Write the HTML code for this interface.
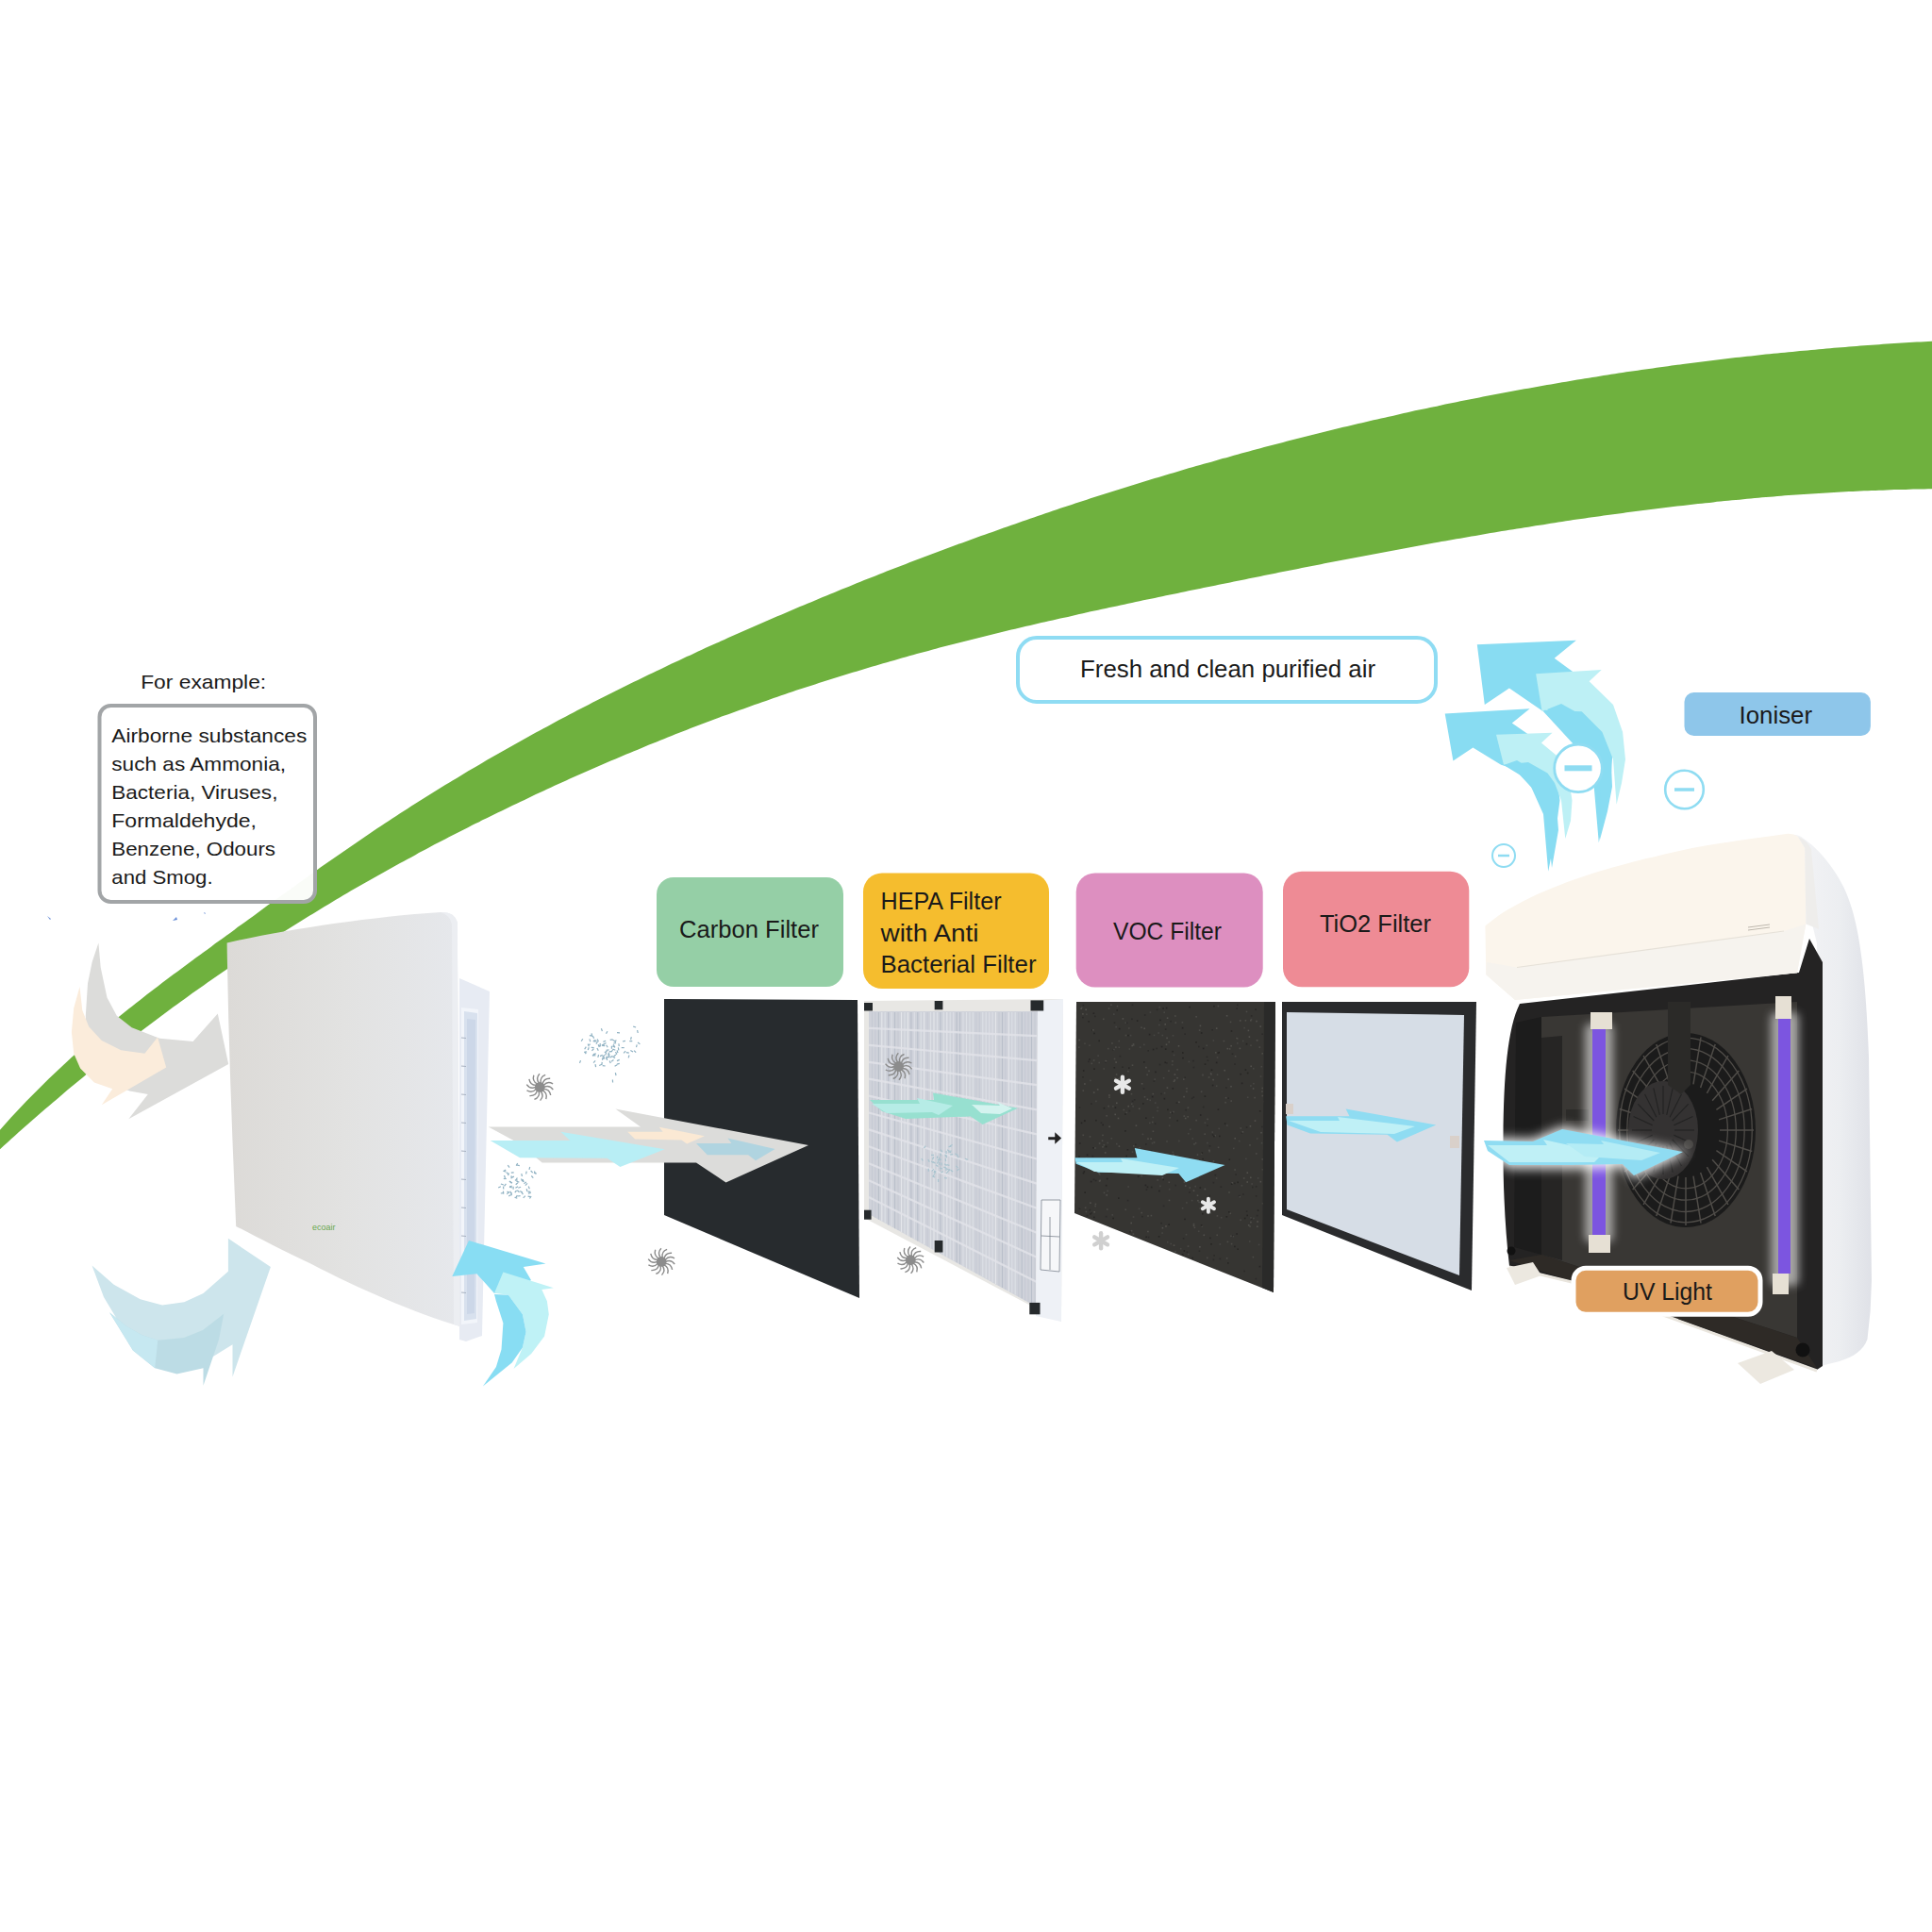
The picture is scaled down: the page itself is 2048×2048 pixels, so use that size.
<!DOCTYPE html>
<html><head><meta charset="utf-8"><style>
html,body{margin:0;padding:0;background:#fff;width:2048px;height:2048px;overflow:hidden}
svg{display:block}
text{font-family:"Liberation Sans",sans-serif}
</style></head><body>
<svg width="2048" height="2048" viewBox="0 0 2048 2048">
<defs><filter id="glow" x="-50%" y="-20%" width="200%" height="140%"><feGaussianBlur stdDeviation="5"/></filter><filter id="glow2" x="-20%" y="-50%" width="140%" height="200%"><feGaussianBlur stdDeviation="6"/></filter></defs>
<rect width="2048" height="2048" fill="#ffffff"/>
<path d="M-8.0,1206.8 C-6.7,1205.3 -2.7,1200.7 0.0,1197.7 C2.7,1194.7 5.3,1191.7 8.0,1188.8 C10.7,1185.8 13.3,1182.9 16.0,1180.1 C18.7,1177.2 21.3,1174.4 24.0,1171.6 C26.7,1168.8 29.3,1166.0 32.0,1163.3 C34.7,1160.6 37.3,1157.9 40.0,1155.2 C42.7,1152.5 45.3,1149.9 48.0,1147.3 C50.7,1144.6 53.3,1142.1 56.0,1139.5 C58.7,1136.9 61.3,1134.4 64.0,1131.9 C66.7,1129.4 69.3,1126.9 72.0,1124.5 C74.7,1122.0 77.3,1119.6 80.0,1117.2 C82.7,1114.8 85.3,1112.4 88.0,1110.1 C90.7,1107.7 93.3,1105.4 96.0,1103.0 C98.7,1100.7 101.3,1098.4 104.0,1096.2 C106.7,1093.9 109.3,1091.6 112.0,1089.4 C114.7,1087.2 117.3,1085.0 120.0,1082.8 C122.7,1080.6 125.3,1078.4 128.0,1076.2 C130.7,1074.1 133.3,1071.9 136.0,1069.8 C138.7,1067.7 141.3,1065.6 144.0,1063.5 C146.7,1061.4 149.3,1059.3 152.0,1057.2 C154.7,1055.1 157.3,1053.1 160.0,1051.0 C162.7,1049.0 165.3,1046.9 168.0,1044.9 C170.7,1042.9 173.3,1040.8 176.0,1038.8 C178.7,1036.8 181.3,1034.8 184.0,1032.8 C186.7,1030.8 189.3,1028.9 192.0,1026.9 C194.7,1024.9 197.3,1022.9 200.0,1021.0 C202.7,1019.0 205.3,1017.0 208.0,1015.1 C210.7,1013.1 213.3,1011.2 216.0,1009.2 C218.7,1007.3 221.3,1005.3 224.0,1003.4 C226.7,1001.4 229.3,999.5 232.0,997.6 C234.7,995.6 237.3,993.7 240.0,991.7 C242.7,989.8 245.3,987.8 248.0,985.9 C250.7,983.9 253.3,982.0 256.0,980.1 C258.7,978.1 261.3,976.2 264.0,974.2 C266.7,972.3 269.3,970.3 272.0,968.4 C274.7,966.5 277.3,964.5 280.0,962.6 C282.7,960.6 285.3,958.7 288.0,956.8 C290.7,954.8 293.3,952.9 296.0,951.0 C298.7,949.0 301.3,947.1 304.0,945.2 C306.7,943.3 309.3,941.4 312.0,939.4 C314.7,937.5 317.3,935.6 320.0,933.7 C322.7,931.8 325.3,929.9 328.0,928.0 C330.7,926.1 333.3,924.2 336.0,922.3 C338.7,920.4 341.3,918.5 344.0,916.6 C346.7,914.8 349.3,912.9 352.0,911.0 C354.7,909.1 357.3,907.3 360.0,905.4 C362.7,903.6 365.3,901.7 368.0,899.9 C370.7,898.0 373.3,896.2 376.0,894.4 C378.7,892.5 381.3,890.7 384.0,888.9 C386.7,887.1 389.3,885.3 392.0,883.5 C394.7,881.7 397.3,879.9 400.0,878.1 C402.7,876.3 405.3,874.6 408.0,872.8 C410.7,871.0 413.3,869.3 416.0,867.5 C418.7,865.8 421.3,864.1 424.0,862.3 C426.7,860.6 429.3,858.9 432.0,857.2 C434.7,855.5 437.3,853.7 440.0,852.1 C442.7,850.4 445.3,848.7 448.0,847.0 C450.7,845.3 453.3,843.6 456.0,842.0 C458.7,840.3 461.3,838.7 464.0,837.0 C466.7,835.4 469.3,833.7 472.0,832.1 C474.7,830.5 477.3,828.8 480.0,827.2 C482.7,825.6 485.3,824.0 488.0,822.4 C490.7,820.8 493.3,819.2 496.0,817.6 C498.7,816.0 501.3,814.5 504.0,812.9 C506.7,811.3 509.3,809.8 512.0,808.2 C514.7,806.7 517.3,805.1 520.0,803.6 C522.7,802.0 525.3,800.5 528.0,799.0 C530.7,797.4 533.3,795.9 536.0,794.4 C538.7,792.9 541.3,791.4 544.0,789.9 C546.7,788.4 549.3,786.9 552.0,785.4 C554.7,783.9 557.3,782.4 560.0,781.0 C562.7,779.5 565.3,778.0 568.0,776.6 C570.7,775.1 573.3,773.7 576.0,772.2 C578.7,770.8 581.3,769.3 584.0,767.9 C586.7,766.5 589.3,765.1 592.0,763.6 C594.7,762.2 597.3,760.8 600.0,759.4 C602.7,758.0 605.3,756.6 608.0,755.2 C610.7,753.8 613.3,752.4 616.0,751.0 C618.7,749.6 621.3,748.3 624.0,746.9 C626.7,745.5 629.3,744.2 632.0,742.8 C634.7,741.4 637.3,740.1 640.0,738.7 C642.7,737.4 645.3,736.0 648.0,734.7 C650.7,733.4 653.3,732.0 656.0,730.7 C658.7,729.4 661.3,728.1 664.0,726.7 C666.7,725.4 669.3,724.1 672.0,722.8 C674.7,721.5 677.3,720.2 680.0,718.9 C682.7,717.6 685.3,716.3 688.0,715.0 C690.7,713.8 693.3,712.5 696.0,711.2 C698.7,709.9 701.3,708.7 704.0,707.4 C706.7,706.1 709.3,704.9 712.0,703.6 C714.7,702.4 717.3,701.1 720.0,699.9 C722.7,698.6 725.3,697.4 728.0,696.1 C730.7,694.9 733.3,693.7 736.0,692.4 C738.7,691.2 741.3,690.0 744.0,688.8 C746.7,687.5 749.3,686.3 752.0,685.1 C754.7,683.9 757.3,682.7 760.0,681.5 C762.7,680.3 765.3,679.1 768.0,677.9 C770.7,676.7 773.3,675.5 776.0,674.3 C778.7,673.1 781.3,671.9 784.0,670.8 C786.7,669.6 789.3,668.4 792.0,667.2 C794.7,666.1 797.3,664.9 800.0,663.7 C802.7,662.6 805.3,661.4 808.0,660.2 C810.7,659.1 813.3,657.9 816.0,656.8 C818.7,655.6 821.3,654.5 824.0,653.3 C826.7,652.2 829.3,651.1 832.0,649.9 C834.7,648.8 837.3,647.6 840.0,646.5 C842.7,645.4 845.3,644.3 848.0,643.1 C850.7,642.0 853.3,640.9 856.0,639.8 C858.7,638.6 861.3,637.5 864.0,636.4 C866.7,635.3 869.3,634.2 872.0,633.1 C874.7,632.0 877.3,630.9 880.0,629.8 C882.7,628.7 885.3,627.6 888.0,626.5 C890.7,625.4 893.3,624.3 896.0,623.3 C898.7,622.2 901.3,621.1 904.0,620.0 C906.7,618.9 909.3,617.9 912.0,616.8 C914.7,615.7 917.3,614.7 920.0,613.6 C922.7,612.5 925.3,611.5 928.0,610.4 C930.7,609.4 933.3,608.3 936.0,607.3 C938.7,606.2 941.3,605.2 944.0,604.1 C946.7,603.1 949.3,602.1 952.0,601.0 C954.7,600.0 957.3,599.0 960.0,597.9 C962.7,596.9 965.3,595.9 968.0,594.8 C970.7,593.8 973.3,592.8 976.0,591.8 C978.7,590.8 981.3,589.8 984.0,588.8 C986.7,587.8 989.3,586.7 992.0,585.7 C994.7,584.7 997.3,583.7 1000.0,582.7 C1002.7,581.8 1005.3,580.8 1008.0,579.8 C1010.7,578.8 1013.3,577.8 1016.0,576.8 C1018.7,575.8 1021.3,574.9 1024.0,573.9 C1026.7,572.9 1029.3,571.9 1032.0,571.0 C1034.7,570.0 1037.3,569.0 1040.0,568.1 C1042.7,567.1 1045.3,566.2 1048.0,565.2 C1050.7,564.3 1053.3,563.3 1056.0,562.4 C1058.7,561.4 1061.3,560.5 1064.0,559.5 C1066.7,558.6 1069.3,557.6 1072.0,556.7 C1074.7,555.8 1077.3,554.9 1080.0,553.9 C1082.7,553.0 1085.3,552.1 1088.0,551.2 C1090.7,550.2 1093.3,549.3 1096.0,548.4 C1098.7,547.5 1101.3,546.6 1104.0,545.7 C1106.7,544.8 1109.3,543.9 1112.0,543.0 C1114.7,542.1 1117.3,541.2 1120.0,540.3 C1122.7,539.4 1125.3,538.5 1128.0,537.6 C1130.7,536.7 1133.3,535.8 1136.0,534.9 C1138.7,534.1 1141.3,533.2 1144.0,532.3 C1146.7,531.4 1149.3,530.6 1152.0,529.7 C1154.7,528.8 1157.3,528.0 1160.0,527.1 C1162.7,526.3 1165.3,525.4 1168.0,524.5 C1170.7,523.7 1173.3,522.8 1176.0,522.0 C1178.7,521.2 1181.3,520.3 1184.0,519.5 C1186.7,518.6 1189.3,517.8 1192.0,517.0 C1194.7,516.1 1197.3,515.3 1200.0,514.5 C1202.7,513.6 1205.3,512.8 1208.0,512.0 C1210.7,511.2 1213.3,510.4 1216.0,509.5 C1218.7,508.7 1221.3,507.9 1224.0,507.1 C1226.7,506.3 1229.3,505.5 1232.0,504.7 C1234.7,503.9 1237.3,503.1 1240.0,502.3 C1242.7,501.5 1245.3,500.7 1248.0,499.9 C1250.7,499.2 1253.3,498.4 1256.0,497.6 C1258.7,496.8 1261.3,496.0 1264.0,495.3 C1266.7,494.5 1269.3,493.7 1272.0,493.0 C1274.7,492.2 1277.3,491.4 1280.0,490.7 C1282.7,489.9 1285.3,489.2 1288.0,488.4 C1290.7,487.6 1293.3,486.9 1296.0,486.1 C1298.7,485.4 1301.3,484.7 1304.0,483.9 C1306.7,483.2 1309.3,482.4 1312.0,481.7 C1314.7,481.0 1317.3,480.2 1320.0,479.5 C1322.7,478.8 1325.3,478.1 1328.0,477.3 C1330.7,476.6 1333.3,475.9 1336.0,475.2 C1338.7,474.5 1341.3,473.8 1344.0,473.1 C1346.7,472.4 1349.3,471.7 1352.0,471.0 C1354.7,470.3 1357.3,469.6 1360.0,468.9 C1362.7,468.2 1365.3,467.5 1368.0,466.8 C1370.7,466.1 1373.3,465.4 1376.0,464.7 C1378.7,464.1 1381.3,463.4 1384.0,462.7 C1386.7,462.0 1389.3,461.4 1392.0,460.7 C1394.7,460.0 1397.3,459.4 1400.0,458.7 C1402.7,458.0 1405.3,457.4 1408.0,456.7 C1410.7,456.1 1413.3,455.4 1416.0,454.8 C1418.7,454.1 1421.3,453.5 1424.0,452.8 C1426.7,452.2 1429.3,451.6 1432.0,450.9 C1434.7,450.3 1437.3,449.7 1440.0,449.0 C1442.7,448.4 1445.3,447.8 1448.0,447.2 C1450.7,446.5 1453.3,445.9 1456.0,445.3 C1458.7,444.7 1461.3,444.1 1464.0,443.5 C1466.7,442.9 1469.3,442.3 1472.0,441.7 C1474.7,441.1 1477.3,440.5 1480.0,439.9 C1482.7,439.3 1485.3,438.7 1488.0,438.1 C1490.7,437.5 1493.3,436.9 1496.0,436.3 C1498.7,435.7 1501.3,435.2 1504.0,434.6 C1506.7,434.0 1509.3,433.4 1512.0,432.9 C1514.7,432.3 1517.3,431.7 1520.0,431.2 C1522.7,430.6 1525.3,430.0 1528.0,429.5 C1530.7,428.9 1533.3,428.4 1536.0,427.8 C1538.7,427.3 1541.3,426.7 1544.0,426.2 C1546.7,425.6 1549.3,425.1 1552.0,424.6 C1554.7,424.0 1557.3,423.5 1560.0,423.0 C1562.7,422.4 1565.3,421.9 1568.0,421.4 C1570.7,420.9 1573.3,420.3 1576.0,419.8 C1578.7,419.3 1581.3,418.8 1584.0,418.3 C1586.7,417.8 1589.3,417.3 1592.0,416.8 C1594.7,416.3 1597.3,415.8 1600.0,415.3 C1602.7,414.8 1605.3,414.3 1608.0,413.8 C1610.7,413.3 1613.3,412.8 1616.0,412.3 C1618.7,411.8 1621.3,411.3 1624.0,410.9 C1626.7,410.4 1629.3,409.9 1632.0,409.4 C1634.7,409.0 1637.3,408.5 1640.0,408.0 C1642.7,407.6 1645.3,407.1 1648.0,406.7 C1650.7,406.2 1653.3,405.7 1656.0,405.3 C1658.7,404.8 1661.3,404.4 1664.0,403.9 C1666.7,403.5 1669.3,403.0 1672.0,402.6 C1674.7,402.2 1677.3,401.7 1680.0,401.3 C1682.7,400.9 1685.3,400.4 1688.0,400.0 C1690.7,399.6 1693.3,399.2 1696.0,398.7 C1698.7,398.3 1701.3,397.9 1704.0,397.5 C1706.7,397.1 1709.3,396.7 1712.0,396.3 C1714.7,395.8 1717.3,395.4 1720.0,395.0 C1722.7,394.6 1725.3,394.2 1728.0,393.8 C1730.7,393.5 1733.3,393.1 1736.0,392.7 C1738.7,392.3 1741.3,391.9 1744.0,391.5 C1746.7,391.1 1749.3,390.8 1752.0,390.4 C1754.7,390.0 1757.3,389.6 1760.0,389.3 C1762.7,388.9 1765.3,388.5 1768.0,388.2 C1770.7,387.8 1773.3,387.4 1776.0,387.1 C1778.7,386.7 1781.3,386.4 1784.0,386.0 C1786.7,385.7 1789.3,385.3 1792.0,385.0 C1794.7,384.6 1797.3,384.3 1800.0,384.0 C1802.7,383.6 1805.3,383.3 1808.0,383.0 C1810.7,382.6 1813.3,382.3 1816.0,382.0 C1818.7,381.7 1821.3,381.3 1824.0,381.0 C1826.7,380.7 1829.3,380.4 1832.0,380.1 C1834.7,379.8 1837.3,379.5 1840.0,379.1 C1842.7,378.8 1845.3,378.5 1848.0,378.2 C1850.7,377.9 1853.3,377.6 1856.0,377.4 C1858.7,377.1 1861.3,376.8 1864.0,376.5 C1866.7,376.2 1869.3,375.9 1872.0,375.6 C1874.7,375.4 1877.3,375.1 1880.0,374.8 C1882.7,374.5 1885.3,374.3 1888.0,374.0 C1890.7,373.7 1893.3,373.5 1896.0,373.2 C1898.7,372.9 1901.3,372.7 1904.0,372.4 C1906.7,372.2 1909.3,371.9 1912.0,371.7 C1914.7,371.4 1917.3,371.2 1920.0,370.9 C1922.7,370.7 1925.3,370.5 1928.0,370.2 C1930.7,370.0 1933.3,369.8 1936.0,369.5 C1938.7,369.3 1941.3,369.1 1944.0,368.8 C1946.7,368.6 1949.3,368.4 1952.0,368.2 C1954.7,368.0 1957.3,367.8 1960.0,367.5 C1962.7,367.3 1965.3,367.1 1968.0,366.9 C1970.7,366.7 1973.3,366.5 1976.0,366.3 C1978.7,366.1 1981.3,365.9 1984.0,365.7 C1986.7,365.5 1989.3,365.4 1992.0,365.2 C1994.7,365.0 1997.3,364.8 2000.0,364.6 C2002.7,364.4 2005.3,364.3 2008.0,364.1 C2010.7,363.9 2013.3,363.8 2016.0,363.6 C2018.7,363.4 2021.3,363.3 2024.0,363.1 C2026.7,362.9 2029.3,362.8 2032.0,362.6 C2034.7,362.5 2037.3,362.3 2040.0,362.2 C2042.7,362.0 2045.3,361.9 2048.0,361.7 C2050.7,361.6 2054.7,361.4 2056.0,361.3 L2056.0,518.2 C2054.7,518.2 2050.7,518.3 2048.0,518.3 C2045.3,518.3 2042.7,518.4 2040.0,518.4 C2037.3,518.5 2034.7,518.5 2032.0,518.6 C2029.3,518.6 2026.7,518.7 2024.0,518.7 C2021.3,518.8 2018.7,518.9 2016.0,518.9 C2013.3,519.0 2010.7,519.1 2008.0,519.1 C2005.3,519.2 2002.7,519.3 2000.0,519.4 C1997.3,519.5 1994.7,519.6 1992.0,519.7 C1989.3,519.8 1986.7,519.9 1984.0,520.0 C1981.3,520.1 1978.7,520.2 1976.0,520.3 C1973.3,520.5 1970.7,520.6 1968.0,520.7 C1965.3,520.8 1962.7,521.0 1960.0,521.1 C1957.3,521.2 1954.7,521.4 1952.0,521.5 C1949.3,521.7 1946.7,521.8 1944.0,522.0 C1941.3,522.1 1938.7,522.3 1936.0,522.4 C1933.3,522.6 1930.7,522.7 1928.0,522.9 C1925.3,523.1 1922.7,523.3 1920.0,523.4 C1917.3,523.6 1914.7,523.8 1912.0,524.0 C1909.3,524.2 1906.7,524.4 1904.0,524.6 C1901.3,524.7 1898.7,524.9 1896.0,525.1 C1893.3,525.3 1890.7,525.6 1888.0,525.8 C1885.3,526.0 1882.7,526.2 1880.0,526.4 C1877.3,526.6 1874.7,526.8 1872.0,527.1 C1869.3,527.3 1866.7,527.5 1864.0,527.8 C1861.3,528.0 1858.7,528.2 1856.0,528.5 C1853.3,528.7 1850.7,529.0 1848.0,529.2 C1845.3,529.5 1842.7,529.7 1840.0,530.0 C1837.3,530.2 1834.7,530.5 1832.0,530.8 C1829.3,531.0 1826.7,531.3 1824.0,531.6 C1821.3,531.8 1818.7,532.1 1816.0,532.4 C1813.3,532.7 1810.7,532.9 1808.0,533.2 C1805.3,533.5 1802.7,533.8 1800.0,534.1 C1797.3,534.4 1794.7,534.7 1792.0,535.0 C1789.3,535.3 1786.7,535.6 1784.0,535.9 C1781.3,536.2 1778.7,536.5 1776.0,536.8 C1773.3,537.1 1770.7,537.4 1768.0,537.8 C1765.3,538.1 1762.7,538.4 1760.0,538.7 C1757.3,539.1 1754.7,539.4 1752.0,539.7 C1749.3,540.0 1746.7,540.4 1744.0,540.7 C1741.3,541.1 1738.7,541.4 1736.0,541.7 C1733.3,542.1 1730.7,542.4 1728.0,542.8 C1725.3,543.1 1722.7,543.5 1720.0,543.9 C1717.3,544.2 1714.7,544.6 1712.0,544.9 C1709.3,545.3 1706.7,545.7 1704.0,546.0 C1701.3,546.4 1698.7,546.8 1696.0,547.2 C1693.3,547.5 1690.7,547.9 1688.0,548.3 C1685.3,548.7 1682.7,549.0 1680.0,549.4 C1677.3,549.8 1674.7,550.2 1672.0,550.6 C1669.3,551.0 1666.7,551.4 1664.0,551.8 C1661.3,552.2 1658.7,552.6 1656.0,553.0 C1653.3,553.4 1650.7,553.8 1648.0,554.2 C1645.3,554.6 1642.7,555.0 1640.0,555.4 C1637.3,555.8 1634.7,556.3 1632.0,556.7 C1629.3,557.1 1626.7,557.5 1624.0,557.9 C1621.3,558.4 1618.7,558.8 1616.0,559.2 C1613.3,559.6 1610.7,560.1 1608.0,560.5 C1605.3,560.9 1602.7,561.4 1600.0,561.8 C1597.3,562.2 1594.7,562.7 1592.0,563.1 C1589.3,563.6 1586.7,564.0 1584.0,564.5 C1581.3,564.9 1578.7,565.3 1576.0,565.8 C1573.3,566.2 1570.7,566.7 1568.0,567.2 C1565.3,567.6 1562.7,568.1 1560.0,568.5 C1557.3,569.0 1554.7,569.4 1552.0,569.9 C1549.3,570.4 1546.7,570.8 1544.0,571.3 C1541.3,571.8 1538.7,572.2 1536.0,572.7 C1533.3,573.2 1530.7,573.7 1528.0,574.1 C1525.3,574.6 1522.7,575.1 1520.0,575.6 C1517.3,576.0 1514.7,576.5 1512.0,577.0 C1509.3,577.5 1506.7,578.0 1504.0,578.4 C1501.3,578.9 1498.7,579.4 1496.0,579.9 C1493.3,580.4 1490.7,580.9 1488.0,581.4 C1485.3,581.9 1482.7,582.4 1480.0,582.9 C1477.3,583.4 1474.7,583.9 1472.0,584.4 C1469.3,584.9 1466.7,585.4 1464.0,585.9 C1461.3,586.4 1458.7,586.9 1456.0,587.4 C1453.3,587.9 1450.7,588.4 1448.0,588.9 C1445.3,589.4 1442.7,589.9 1440.0,590.4 C1437.3,590.9 1434.7,591.4 1432.0,592.0 C1429.3,592.5 1426.7,593.0 1424.0,593.5 C1421.3,594.0 1418.7,594.5 1416.0,595.1 C1413.3,595.6 1410.7,596.1 1408.0,596.6 C1405.3,597.1 1402.7,597.7 1400.0,598.2 C1397.3,598.7 1394.7,599.2 1392.0,599.8 C1389.3,600.3 1386.7,600.8 1384.0,601.3 C1381.3,601.9 1378.7,602.4 1376.0,602.9 C1373.3,603.4 1370.7,604.0 1368.0,604.5 C1365.3,605.0 1362.7,605.6 1360.0,606.1 C1357.3,606.6 1354.7,607.2 1352.0,607.7 C1349.3,608.2 1346.7,608.8 1344.0,609.3 C1341.3,609.9 1338.7,610.4 1336.0,610.9 C1333.3,611.5 1330.7,612.0 1328.0,612.6 C1325.3,613.1 1322.7,613.6 1320.0,614.2 C1317.3,614.7 1314.7,615.3 1312.0,615.8 C1309.3,616.3 1306.7,616.9 1304.0,617.4 C1301.3,618.0 1298.7,618.5 1296.0,619.1 C1293.3,619.6 1290.7,620.2 1288.0,620.7 C1285.3,621.3 1282.7,621.8 1280.0,622.3 C1277.3,622.9 1274.7,623.4 1272.0,624.0 C1269.3,624.5 1266.7,625.1 1264.0,625.6 C1261.3,626.2 1258.7,626.7 1256.0,627.3 C1253.3,627.8 1250.7,628.4 1248.0,628.9 C1245.3,629.5 1242.7,630.0 1240.0,630.6 C1237.3,631.1 1234.7,631.7 1232.0,632.3 C1229.3,632.8 1226.7,633.4 1224.0,633.9 C1221.3,634.5 1218.7,635.0 1216.0,635.6 C1213.3,636.2 1210.7,636.7 1208.0,637.3 C1205.3,637.8 1202.7,638.4 1200.0,639.0 C1197.3,639.5 1194.7,640.1 1192.0,640.7 C1189.3,641.2 1186.7,641.8 1184.0,642.4 C1181.3,643.0 1178.7,643.5 1176.0,644.1 C1173.3,644.7 1170.7,645.3 1168.0,645.8 C1165.3,646.4 1162.7,647.0 1160.0,647.6 C1157.3,648.2 1154.7,648.7 1152.0,649.3 C1149.3,649.9 1146.7,650.5 1144.0,651.1 C1141.3,651.7 1138.7,652.3 1136.0,652.9 C1133.3,653.5 1130.7,654.1 1128.0,654.7 C1125.3,655.2 1122.7,655.9 1120.0,656.5 C1117.3,657.1 1114.7,657.7 1112.0,658.3 C1109.3,658.9 1106.7,659.5 1104.0,660.1 C1101.3,660.7 1098.7,661.3 1096.0,662.0 C1093.3,662.6 1090.7,663.2 1088.0,663.8 C1085.3,664.4 1082.7,665.1 1080.0,665.7 C1077.3,666.3 1074.7,667.0 1072.0,667.6 C1069.3,668.2 1066.7,668.9 1064.0,669.5 C1061.3,670.2 1058.7,670.8 1056.0,671.5 C1053.3,672.1 1050.7,672.8 1048.0,673.4 C1045.3,674.1 1042.7,674.7 1040.0,675.4 C1037.3,676.1 1034.7,676.7 1032.0,677.4 C1029.3,678.1 1026.7,678.8 1024.0,679.4 C1021.3,680.1 1018.7,680.8 1016.0,681.5 C1013.3,682.2 1010.7,682.9 1008.0,683.6 C1005.3,684.2 1002.7,684.9 1000.0,685.6 C997.3,686.3 994.7,687.1 992.0,687.8 C989.3,688.5 986.7,689.2 984.0,689.9 C981.3,690.6 978.7,691.3 976.0,692.1 C973.3,692.8 970.7,693.5 968.0,694.3 C965.3,695.0 962.7,695.7 960.0,696.5 C957.3,697.2 954.7,698.0 952.0,698.7 C949.3,699.5 946.7,700.3 944.0,701.0 C941.3,701.8 938.7,702.5 936.0,703.3 C933.3,704.1 930.7,704.9 928.0,705.7 C925.3,706.4 922.7,707.2 920.0,708.0 C917.3,708.8 914.7,709.6 912.0,710.4 C909.3,711.2 906.7,712.0 904.0,712.8 C901.3,713.6 898.7,714.5 896.0,715.3 C893.3,716.1 890.7,716.9 888.0,717.8 C885.3,718.6 882.7,719.4 880.0,720.3 C877.3,721.1 874.7,722.0 872.0,722.8 C869.3,723.7 866.7,724.5 864.0,725.4 C861.3,726.3 858.7,727.1 856.0,728.0 C853.3,728.9 850.7,729.7 848.0,730.6 C845.3,731.5 842.7,732.4 840.0,733.3 C837.3,734.2 834.7,735.1 832.0,736.0 C829.3,736.9 826.7,737.8 824.0,738.7 C821.3,739.6 818.7,740.5 816.0,741.4 C813.3,742.4 810.7,743.3 808.0,744.2 C805.3,745.2 802.7,746.1 800.0,747.0 C797.3,748.0 794.7,748.9 792.0,749.9 C789.3,750.8 786.7,751.8 784.0,752.7 C781.3,753.7 778.7,754.7 776.0,755.7 C773.3,756.6 770.7,757.6 768.0,758.6 C765.3,759.6 762.7,760.6 760.0,761.5 C757.3,762.5 754.7,763.5 752.0,764.5 C749.3,765.5 746.7,766.6 744.0,767.6 C741.3,768.6 738.7,769.6 736.0,770.6 C733.3,771.7 730.7,772.7 728.0,773.7 C725.3,774.8 722.7,775.8 720.0,776.8 C717.3,777.9 714.7,778.9 712.0,780.0 C709.3,781.0 706.7,782.1 704.0,783.2 C701.3,784.2 698.7,785.3 696.0,786.4 C693.3,787.5 690.7,788.5 688.0,789.6 C685.3,790.7 682.7,791.8 680.0,792.9 C677.3,794.0 674.7,795.1 672.0,796.2 C669.3,797.3 666.7,798.4 664.0,799.6 C661.3,800.7 658.7,801.8 656.0,802.9 C653.3,804.1 650.7,805.2 648.0,806.3 C645.3,807.5 642.7,808.6 640.0,809.8 C637.3,810.9 634.7,812.1 632.0,813.2 C629.3,814.4 626.7,815.6 624.0,816.7 C621.3,817.9 618.7,819.1 616.0,820.3 C613.3,821.4 610.7,822.6 608.0,823.8 C605.3,825.0 602.7,826.2 600.0,827.4 C597.3,828.6 594.7,829.8 592.0,831.1 C589.3,832.3 586.7,833.5 584.0,834.7 C581.3,835.9 578.7,837.2 576.0,838.4 C573.3,839.6 570.7,840.9 568.0,842.1 C565.3,843.4 562.7,844.6 560.0,845.9 C557.3,847.2 554.7,848.4 552.0,849.7 C549.3,851.0 546.7,852.2 544.0,853.5 C541.3,854.8 538.7,856.1 536.0,857.4 C533.3,858.7 530.7,860.0 528.0,861.3 C525.3,862.6 522.7,863.9 520.0,865.2 C517.3,866.5 514.7,867.8 512.0,869.1 C509.3,870.5 506.7,871.8 504.0,873.1 C501.3,874.5 498.7,875.8 496.0,877.2 C493.3,878.5 490.7,879.9 488.0,881.2 C485.3,882.6 482.7,884.0 480.0,885.3 C477.3,886.7 474.7,888.1 472.0,889.5 C469.3,890.8 466.7,892.2 464.0,893.6 C461.3,895.0 458.7,896.4 456.0,897.8 C453.3,899.3 450.7,900.7 448.0,902.1 C445.3,903.5 442.7,904.9 440.0,906.4 C437.3,907.8 434.7,909.3 432.0,910.7 C429.3,912.1 426.7,913.6 424.0,915.1 C421.3,916.5 418.7,918.0 416.0,919.5 C413.3,920.9 410.7,922.4 408.0,923.9 C405.3,925.4 402.7,926.9 400.0,928.4 C397.3,929.9 394.7,931.4 392.0,932.9 C389.3,934.5 386.7,936.0 384.0,937.5 C381.3,939.0 378.7,940.6 376.0,942.1 C373.3,943.7 370.7,945.2 368.0,946.8 C365.3,948.3 362.7,949.9 360.0,951.5 C357.3,953.1 354.7,954.6 352.0,956.2 C349.3,957.8 346.7,959.4 344.0,961.0 C341.3,962.6 338.7,964.2 336.0,965.9 C333.3,967.5 330.7,969.1 328.0,970.8 C325.3,972.4 322.7,974.0 320.0,975.7 C317.3,977.3 314.7,979.0 312.0,980.7 C309.3,982.3 306.7,984.0 304.0,985.7 C301.3,987.4 298.7,989.1 296.0,990.8 C293.3,992.5 290.7,994.2 288.0,995.9 C285.3,997.6 282.7,999.3 280.0,1001.1 C277.3,1002.8 274.7,1004.6 272.0,1006.3 C269.3,1008.1 266.7,1009.8 264.0,1011.6 C261.3,1013.4 258.7,1015.1 256.0,1016.9 C253.3,1018.7 250.7,1020.5 248.0,1022.3 C245.3,1024.1 242.7,1025.9 240.0,1027.7 C237.3,1029.6 234.7,1031.4 232.0,1033.2 C229.3,1035.1 226.7,1036.9 224.0,1038.8 C221.3,1040.6 218.7,1042.5 216.0,1044.4 C213.3,1046.3 210.7,1048.1 208.0,1050.0 C205.3,1051.9 202.7,1053.8 200.0,1055.7 C197.3,1057.7 194.7,1059.6 192.0,1061.5 C189.3,1063.4 186.7,1065.4 184.0,1067.3 C181.3,1069.3 178.7,1071.2 176.0,1073.2 C173.3,1075.2 170.7,1077.2 168.0,1079.2 C165.3,1081.1 162.7,1083.1 160.0,1085.2 C157.3,1087.2 154.7,1089.2 152.0,1091.2 C149.3,1093.2 146.7,1095.3 144.0,1097.3 C141.3,1099.4 138.7,1101.4 136.0,1103.5 C133.3,1105.6 130.7,1107.6 128.0,1109.7 C125.3,1111.8 122.7,1113.9 120.0,1116.0 C117.3,1118.1 114.7,1120.3 112.0,1122.4 C109.3,1124.5 106.7,1126.7 104.0,1128.8 C101.3,1131.0 98.7,1133.1 96.0,1135.3 C93.3,1137.5 90.7,1139.7 88.0,1141.9 C85.3,1144.1 82.7,1146.3 80.0,1148.5 C77.3,1150.7 74.7,1152.9 72.0,1155.1 C69.3,1157.4 66.7,1159.6 64.0,1161.9 C61.3,1164.2 58.7,1166.4 56.0,1168.7 C53.3,1171.0 50.7,1173.3 48.0,1175.6 C45.3,1177.9 42.7,1180.2 40.0,1182.5 C37.3,1184.9 34.7,1187.2 32.0,1189.5 C29.3,1191.9 26.7,1194.2 24.0,1196.6 C21.3,1199.0 18.7,1201.4 16.0,1203.8 C13.3,1206.2 10.7,1208.6 8.0,1211.0 C5.3,1213.4 2.7,1215.8 0.0,1218.3 C-2.7,1220.7 -6.7,1224.4 -8.0,1225.6 Z" fill="#6fb13e"/>
<rect x="105.5" y="748" width="228.5" height="208" rx="12" fill="#fff" fill-opacity="0.965" stroke="#a2a5a7" stroke-width="4"/>
<path d="M50,971 l4,3 l-1,1 z M183,976 l4,-4 l1,3 z M216,967 l2,1 l-1,1 z" fill="#6a8fd8"/>
<text x="149.2" y="729.6" font-size="21" fill="#1a1a1a" text-anchor="start" textLength="133" lengthAdjust="spacingAndGlyphs" >For example:</text>
<text x="118.3" y="787.0" font-size="21" fill="#1a1a1a" text-anchor="start" textLength="207" lengthAdjust="spacingAndGlyphs" >Airborne substances</text>
<text x="118.3" y="816.9" font-size="21" fill="#1a1a1a" text-anchor="start" textLength="184.8" lengthAdjust="spacingAndGlyphs" >such as Ammonia,</text>
<text x="118.3" y="846.8" font-size="21" fill="#1a1a1a" text-anchor="start" textLength="176.1" lengthAdjust="spacingAndGlyphs" >Bacteria, Viruses,</text>
<text x="118.3" y="876.7" font-size="21" fill="#1a1a1a" text-anchor="start" textLength="153.7" lengthAdjust="spacingAndGlyphs" >Formaldehyde,</text>
<text x="118.3" y="906.6" font-size="21" fill="#1a1a1a" text-anchor="start" textLength="173.7" lengthAdjust="spacingAndGlyphs" >Benzene, Odours</text>
<text x="118.3" y="936.5" font-size="21" fill="#1a1a1a" text-anchor="start" textLength="107.3" lengthAdjust="spacingAndGlyphs" >and Smog.</text>
<rect x="696" y="930" width="198" height="116" rx="18" fill="#95cfa6"/><text x="720" y="993.8" font-size="25" fill="#1a1a1a" text-anchor="start" textLength="148" lengthAdjust="spacingAndGlyphs" >Carbon Filter</text>
<rect x="915" y="925.5" width="197" height="122.5" rx="20" fill="#f5bd2e"/><text x="933.5" y="964.2" font-size="25" fill="#1a1a1a" text-anchor="start" textLength="128" lengthAdjust="spacingAndGlyphs" >HEPA Filter</text><text x="933.5" y="997.7" font-size="25" fill="#1a1a1a" text-anchor="start" textLength="104" lengthAdjust="spacingAndGlyphs" >with Anti</text><text x="933.5" y="1031.2" font-size="25" fill="#1a1a1a" text-anchor="start" textLength="165" lengthAdjust="spacingAndGlyphs" >Bacterial Filter</text>
<rect x="1140.7" y="925.4" width="198" height="121" rx="20" fill="#dd8fc0"/><text x="1180" y="996.3" font-size="25" fill="#1a1a1a" text-anchor="start" textLength="115" lengthAdjust="spacingAndGlyphs" >VOC Filter</text>
<rect x="1360" y="923.8" width="197.3" height="122.4" rx="20" fill="#ee8b95"/><text x="1399" y="988" font-size="25" fill="#1a1a1a" text-anchor="start" textLength="118" lengthAdjust="spacingAndGlyphs" >TiO2 Filter</text>
<rect x="1785.5" y="734" width="197.4" height="46" rx="10" fill="#8ec6ea"/><text x="1843.5" y="766.5" font-size="25" fill="#1a1a1a" text-anchor="start" textLength="77.5" lengthAdjust="spacingAndGlyphs" >Ioniser</text>
<rect x="1079" y="676" width="443" height="68" rx="20" fill="#fff" stroke="#8fdcf3" stroke-width="4"/>
<text x="1145" y="718" font-size="25" fill="#1a1a1a" text-anchor="start" textLength="313" lengthAdjust="spacingAndGlyphs" >Fresh and clean purified air</text>
<polygon points="704,1059 909,1060 911,1376 704,1288" fill="#272b2e"/>
<polygon points="916,1061 1127,1059 1125,1401 916,1291" fill="#e8e7e4"/>
<polygon points="921,1072 1100,1072 1098,1385 921,1287" fill="#cfd2da"/>
<line x1="924.5" y1="1073" x2="924.5" y2="1288.9" stroke="#c6cad4" stroke-width="1.1"/><line x1="927.9" y1="1073" x2="927.9" y2="1290.8" stroke="#c6cad4" stroke-width="1.1"/><line x1="931.4" y1="1073" x2="931.4" y2="1292.7" stroke="#b9bfca" stroke-width="1.1"/><line x1="934.8" y1="1073" x2="934.8" y2="1294.6" stroke="#e5e7eb" stroke-width="1.1"/><line x1="938.2" y1="1073" x2="938.2" y2="1296.5" stroke="#dde0e6" stroke-width="1.1"/><line x1="941.7" y1="1073" x2="941.7" y2="1298.4" stroke="#b9bfca" stroke-width="1.1"/><line x1="945.1" y1="1073" x2="945.1" y2="1300.3" stroke="#dde0e6" stroke-width="1.1"/><line x1="948.6" y1="1073" x2="948.6" y2="1302.2" stroke="#b9bfca" stroke-width="1.1"/><line x1="952.0" y1="1073" x2="952.0" y2="1304.1" stroke="#c6cad4" stroke-width="1.1"/><line x1="955.5" y1="1073" x2="955.5" y2="1306.0" stroke="#e5e7eb" stroke-width="1.1"/><line x1="959.0" y1="1073" x2="959.0" y2="1307.9" stroke="#dde0e6" stroke-width="1.1"/><line x1="962.4" y1="1073" x2="962.4" y2="1309.8" stroke="#e5e7eb" stroke-width="1.1"/><line x1="965.9" y1="1073" x2="965.9" y2="1311.7" stroke="#b9bfca" stroke-width="1.1"/><line x1="969.3" y1="1073" x2="969.3" y2="1313.6" stroke="#dde0e6" stroke-width="1.1"/><line x1="972.8" y1="1073" x2="972.8" y2="1315.5" stroke="#b9bfca" stroke-width="1.1"/><line x1="976.2" y1="1073" x2="976.2" y2="1317.4" stroke="#dde0e6" stroke-width="1.1"/><line x1="979.6" y1="1073" x2="979.6" y2="1319.3" stroke="#e5e7eb" stroke-width="1.1"/><line x1="983.1" y1="1073" x2="983.1" y2="1321.2" stroke="#c6cad4" stroke-width="1.1"/><line x1="986.5" y1="1073" x2="986.5" y2="1323.1" stroke="#dde0e6" stroke-width="1.1"/><line x1="990.0" y1="1073" x2="990.0" y2="1325.0" stroke="#e5e7eb" stroke-width="1.1"/><line x1="993.5" y1="1073" x2="993.5" y2="1326.9" stroke="#dde0e6" stroke-width="1.1"/><line x1="996.9" y1="1073" x2="996.9" y2="1328.8" stroke="#b9bfca" stroke-width="1.1"/><line x1="1000.4" y1="1073" x2="1000.4" y2="1330.7" stroke="#dde0e6" stroke-width="1.1"/><line x1="1003.8" y1="1073" x2="1003.8" y2="1332.6" stroke="#e5e7eb" stroke-width="1.1"/><line x1="1007.2" y1="1073" x2="1007.2" y2="1334.5" stroke="#dde0e6" stroke-width="1.1"/><line x1="1010.7" y1="1073" x2="1010.7" y2="1336.4" stroke="#dde0e6" stroke-width="1.1"/><line x1="1014.1" y1="1073" x2="1014.1" y2="1338.3" stroke="#b9bfca" stroke-width="1.1"/><line x1="1017.6" y1="1073" x2="1017.6" y2="1340.2" stroke="#b9bfca" stroke-width="1.1"/><line x1="1021.0" y1="1073" x2="1021.0" y2="1342.1" stroke="#dde0e6" stroke-width="1.1"/><line x1="1024.5" y1="1073" x2="1024.5" y2="1344.0" stroke="#dde0e6" stroke-width="1.1"/><line x1="1028.0" y1="1073" x2="1028.0" y2="1345.9" stroke="#dde0e6" stroke-width="1.1"/><line x1="1031.4" y1="1073" x2="1031.4" y2="1347.8" stroke="#dde0e6" stroke-width="1.1"/><line x1="1034.8" y1="1073" x2="1034.8" y2="1349.7" stroke="#c6cad4" stroke-width="1.1"/><line x1="1038.3" y1="1073" x2="1038.3" y2="1351.6" stroke="#c6cad4" stroke-width="1.1"/><line x1="1041.8" y1="1073" x2="1041.8" y2="1353.5" stroke="#dde0e6" stroke-width="1.1"/><line x1="1045.2" y1="1073" x2="1045.2" y2="1355.4" stroke="#dde0e6" stroke-width="1.1"/><line x1="1048.7" y1="1073" x2="1048.7" y2="1357.3" stroke="#dde0e6" stroke-width="1.1"/><line x1="1052.1" y1="1073" x2="1052.1" y2="1359.2" stroke="#dde0e6" stroke-width="1.1"/><line x1="1055.5" y1="1073" x2="1055.5" y2="1361.1" stroke="#e5e7eb" stroke-width="1.1"/><line x1="1059.0" y1="1073" x2="1059.0" y2="1363.0" stroke="#c6cad4" stroke-width="1.1"/><line x1="1062.5" y1="1073" x2="1062.5" y2="1364.9" stroke="#b9bfca" stroke-width="1.1"/><line x1="1065.9" y1="1073" x2="1065.9" y2="1366.8" stroke="#c6cad4" stroke-width="1.1"/><line x1="1069.3" y1="1073" x2="1069.3" y2="1368.7" stroke="#e5e7eb" stroke-width="1.1"/><line x1="1072.8" y1="1073" x2="1072.8" y2="1370.6" stroke="#dde0e6" stroke-width="1.1"/><line x1="1076.2" y1="1073" x2="1076.2" y2="1372.5" stroke="#dde0e6" stroke-width="1.1"/><line x1="1079.7" y1="1073" x2="1079.7" y2="1374.4" stroke="#c6cad4" stroke-width="1.1"/><line x1="1083.2" y1="1073" x2="1083.2" y2="1376.3" stroke="#b9bfca" stroke-width="1.1"/><line x1="1086.6" y1="1073" x2="1086.6" y2="1378.2" stroke="#c6cad4" stroke-width="1.1"/><line x1="1090.0" y1="1073" x2="1090.0" y2="1380.1" stroke="#c6cad4" stroke-width="1.1"/><line x1="1093.5" y1="1073" x2="1093.5" y2="1382.0" stroke="#b9bfca" stroke-width="1.1"/><line x1="1097.0" y1="1073" x2="1097.0" y2="1383.9" stroke="#c6cad4" stroke-width="1.1"/><line x1="921" y1="1089.9" x2="1099" y2="1098.1" stroke="#e2e3e9" stroke-width="2.2" opacity="0.85"/><line x1="921" y1="1107.8" x2="1099" y2="1124.2" stroke="#e2e3e9" stroke-width="2.2" opacity="0.85"/><line x1="921" y1="1125.8" x2="1099" y2="1150.2" stroke="#e2e3e9" stroke-width="2.2" opacity="0.85"/><line x1="921" y1="1143.7" x2="1099" y2="1176.3" stroke="#e2e3e9" stroke-width="2.2" opacity="0.85"/><line x1="921" y1="1161.6" x2="1099" y2="1202.4" stroke="#e2e3e9" stroke-width="2.2" opacity="0.85"/><line x1="921" y1="1179.5" x2="1099" y2="1228.5" stroke="#e2e3e9" stroke-width="2.2" opacity="0.85"/><line x1="921" y1="1197.4" x2="1099" y2="1254.6" stroke="#e2e3e9" stroke-width="2.2" opacity="0.85"/><line x1="921" y1="1215.3" x2="1099" y2="1280.7" stroke="#e2e3e9" stroke-width="2.2" opacity="0.85"/><line x1="921" y1="1233.2" x2="1099" y2="1306.8" stroke="#e2e3e9" stroke-width="2.2" opacity="0.85"/><line x1="921" y1="1251.2" x2="1099" y2="1332.8" stroke="#e2e3e9" stroke-width="2.2" opacity="0.85"/><line x1="921" y1="1269.1" x2="1099" y2="1358.9" stroke="#e2e3e9" stroke-width="2.2" opacity="0.85"/>
<polygon points="1100,1061 1127,1059 1125,1401 1098,1395" fill="#eef1f6"/>
<polygon points="1104,1272 1124,1272 1123,1348 1103,1346" fill="#f6f7f9" stroke="#7d8590" stroke-width="0.8"/>
<line x1="1113" y1="1290" x2="1113" y2="1346" stroke="#7d8590" stroke-width="0.8"/><line x1="1104" y1="1310" x2="1123" y2="1311" stroke="#7d8590" stroke-width="0.8"/>
<path d="M1112,1206 L1119,1206 L1119,1202 L1124,1206.5 L1119,1211 L1119,1207.5 L1112,1207.5 Z" fill="#222" stroke="#222" stroke-width="1.5"/>
<rect x="916" y="1063" width="9.0" height="8.5" fill="#262a2c"/>
<rect x="990.7" y="1061" width="8.7" height="9.3" fill="#262a2c"/>
<rect x="1092.5" y="1060.4" width="13.7" height="11.1" fill="#262a2c"/>
<rect x="916" y="1282.7" width="7.6" height="10.0" fill="#262a2c"/>
<rect x="990.7" y="1315" width="8.7" height="12.5" fill="#262a2c"/>
<rect x="1091.3" y="1380.9" width="11.2" height="12.4" fill="#262a2c"/>
<polygon points="1141,1062 1352,1062 1350,1370 1139,1286" fill="#363532"/>
<rect x="1207.8" y="1109.3" width="1.6" height="1.6" fill="#474643"/><rect x="1157.5" y="1224.8" width="1.6" height="1.6" fill="#2b2a28"/><rect x="1185.9" y="1089.8" width="1.6" height="1.6" fill="#262523"/><rect x="1157.0" y="1091.2" width="1.6" height="1.6" fill="#262523"/><rect x="1154.8" y="1233.6" width="1.6" height="1.6" fill="#4c4b47"/><rect x="1269.1" y="1238.9" width="1.6" height="1.6" fill="#474643"/><rect x="1258.4" y="1183.0" width="1.6" height="1.6" fill="#4c4b47"/><rect x="1200.9" y="1107.3" width="1.6" height="1.6" fill="#474643"/><rect x="1257.2" y="1232.1" width="1.6" height="1.6" fill="#4c4b47"/><rect x="1163.6" y="1235.4" width="1.6" height="1.6" fill="#4c4b47"/><rect x="1217.5" y="1228.3" width="1.6" height="1.6" fill="#474643"/><rect x="1255.9" y="1249.7" width="1.6" height="1.6" fill="#262523"/><rect x="1279.1" y="1192.3" width="1.6" height="1.6" fill="#2b2a28"/><rect x="1215.3" y="1138.5" width="1.6" height="1.6" fill="#4c4b47"/><rect x="1282.8" y="1137.2" width="1.6" height="1.6" fill="#52504c"/><rect x="1203.0" y="1212.5" width="1.6" height="1.6" fill="#2b2a28"/><rect x="1288.9" y="1150.4" width="1.6" height="1.6" fill="#474643"/><rect x="1166.6" y="1189.4" width="1.6" height="1.6" fill="#2b2a28"/><rect x="1173.4" y="1210.7" width="1.6" height="1.6" fill="#474643"/><rect x="1335.4" y="1087.3" width="1.6" height="1.6" fill="#52504c"/><rect x="1257.6" y="1326.6" width="1.6" height="1.6" fill="#2b2a28"/><rect x="1211.0" y="1169.1" width="1.6" height="1.6" fill="#262523"/><rect x="1259.0" y="1200.9" width="1.6" height="1.6" fill="#474643"/><rect x="1331.9" y="1206.2" width="1.6" height="1.6" fill="#474643"/><rect x="1155.1" y="1274.4" width="1.6" height="1.6" fill="#52504c"/><rect x="1341.6" y="1310.6" width="1.6" height="1.6" fill="#2b2a28"/><rect x="1286.3" y="1330.1" width="1.6" height="1.6" fill="#2b2a28"/><rect x="1147.5" y="1202.5" width="1.6" height="1.6" fill="#4c4b47"/><rect x="1265.2" y="1212.1" width="1.6" height="1.6" fill="#4c4b47"/><rect x="1296.6" y="1102.8" width="1.6" height="1.6" fill="#4c4b47"/><rect x="1242.3" y="1113.9" width="1.6" height="1.6" fill="#262523"/><rect x="1252.9" y="1329.0" width="1.6" height="1.6" fill="#262523"/><rect x="1315.8" y="1147.5" width="1.6" height="1.6" fill="#262523"/><rect x="1340.3" y="1268.8" width="1.6" height="1.6" fill="#262523"/><rect x="1334.5" y="1109.3" width="1.6" height="1.6" fill="#4c4b47"/><rect x="1173.3" y="1261.6" width="1.6" height="1.6" fill="#474643"/><rect x="1240.0" y="1240.7" width="1.6" height="1.6" fill="#2b2a28"/><rect x="1199.4" y="1107.7" width="1.6" height="1.6" fill="#52504c"/><rect x="1216.9" y="1233.9" width="1.6" height="1.6" fill="#4c4b47"/><rect x="1281.1" y="1218.6" width="1.6" height="1.6" fill="#52504c"/><rect x="1274.0" y="1285.9" width="1.6" height="1.6" fill="#262523"/><rect x="1322.9" y="1298.0" width="1.6" height="1.6" fill="#52504c"/><rect x="1221.5" y="1183.7" width="1.6" height="1.6" fill="#474643"/><rect x="1239.3" y="1184.1" width="1.6" height="1.6" fill="#4c4b47"/><rect x="1156.5" y="1126.6" width="1.6" height="1.6" fill="#4c4b47"/><rect x="1165.0" y="1244.2" width="1.6" height="1.6" fill="#474643"/><rect x="1143.0" y="1109.4" width="1.6" height="1.6" fill="#474643"/><rect x="1332.8" y="1248.1" width="1.6" height="1.6" fill="#474643"/><rect x="1317.9" y="1248.2" width="1.6" height="1.6" fill="#4c4b47"/><rect x="1263.5" y="1206.2" width="1.6" height="1.6" fill="#474643"/><rect x="1236.2" y="1209.2" width="1.6" height="1.6" fill="#474643"/><rect x="1171.8" y="1288.9" width="1.6" height="1.6" fill="#2b2a28"/><rect x="1238.7" y="1271.6" width="1.6" height="1.6" fill="#52504c"/><rect x="1248.7" y="1108.0" width="1.6" height="1.6" fill="#52504c"/><rect x="1325.8" y="1291.4" width="1.6" height="1.6" fill="#2b2a28"/><rect x="1338.7" y="1323.0" width="1.6" height="1.6" fill="#2b2a28"/><rect x="1214.1" y="1130.8" width="1.6" height="1.6" fill="#52504c"/><rect x="1298.8" y="1162.9" width="1.6" height="1.6" fill="#4c4b47"/><rect x="1265.6" y="1300.5" width="1.6" height="1.6" fill="#4c4b47"/><rect x="1304.2" y="1309.5" width="1.6" height="1.6" fill="#4c4b47"/><rect x="1183.0" y="1211.8" width="1.6" height="1.6" fill="#474643"/><rect x="1340.9" y="1301.0" width="1.6" height="1.6" fill="#262523"/><rect x="1194.8" y="1271.8" width="1.6" height="1.6" fill="#2b2a28"/><rect x="1340.6" y="1350.5" width="1.6" height="1.6" fill="#2b2a28"/><rect x="1159.1" y="1094.6" width="1.6" height="1.6" fill="#262523"/><rect x="1182.3" y="1125.3" width="1.6" height="1.6" fill="#52504c"/><rect x="1340.0" y="1247.1" width="1.6" height="1.6" fill="#474643"/><rect x="1238.9" y="1259.9" width="1.6" height="1.6" fill="#474643"/><rect x="1309.9" y="1100.0" width="1.6" height="1.6" fill="#262523"/><rect x="1299.5" y="1289.0" width="1.6" height="1.6" fill="#262523"/><rect x="1320.8" y="1194.2" width="1.6" height="1.6" fill="#2b2a28"/><rect x="1287.4" y="1202.9" width="1.6" height="1.6" fill="#474643"/><rect x="1288.0" y="1115.0" width="1.6" height="1.6" fill="#4c4b47"/><rect x="1148.5" y="1241.2" width="1.6" height="1.6" fill="#262523"/><rect x="1304.3" y="1107.9" width="1.6" height="1.6" fill="#52504c"/><rect x="1339.1" y="1261.2" width="1.6" height="1.6" fill="#2b2a28"/><rect x="1174.2" y="1228.5" width="1.6" height="1.6" fill="#474643"/><rect x="1272.9" y="1222.0" width="1.6" height="1.6" fill="#4c4b47"/><rect x="1308.2" y="1127.3" width="1.6" height="1.6" fill="#2b2a28"/><rect x="1185.6" y="1214.3" width="1.6" height="1.6" fill="#52504c"/><rect x="1208.2" y="1227.3" width="1.6" height="1.6" fill="#4c4b47"/><rect x="1155.2" y="1286.0" width="1.6" height="1.6" fill="#262523"/><rect x="1275.5" y="1308.5" width="1.6" height="1.6" fill="#52504c"/><rect x="1243.3" y="1223.5" width="1.6" height="1.6" fill="#52504c"/><rect x="1245.1" y="1325.8" width="1.6" height="1.6" fill="#4c4b47"/><rect x="1264.7" y="1296.8" width="1.6" height="1.6" fill="#4c4b47"/><rect x="1177.5" y="1206.0" width="1.6" height="1.6" fill="#474643"/><rect x="1254.3" y="1161.8" width="1.6" height="1.6" fill="#52504c"/><rect x="1249.1" y="1208.7" width="1.6" height="1.6" fill="#474643"/><rect x="1319.6" y="1081.0" width="1.6" height="1.6" fill="#4c4b47"/><rect x="1198.4" y="1295.7" width="1.6" height="1.6" fill="#52504c"/><rect x="1233.4" y="1072.4" width="1.6" height="1.6" fill="#474643"/><rect x="1231.6" y="1247.8" width="1.6" height="1.6" fill="#52504c"/><rect x="1264.2" y="1123.8" width="1.6" height="1.6" fill="#2b2a28"/><rect x="1233.5" y="1224.0" width="1.6" height="1.6" fill="#262523"/><rect x="1244.6" y="1138.3" width="1.6" height="1.6" fill="#52504c"/><rect x="1318.3" y="1346.7" width="1.6" height="1.6" fill="#2b2a28"/><rect x="1327.6" y="1331.8" width="1.6" height="1.6" fill="#4c4b47"/><rect x="1311.0" y="1105.1" width="1.6" height="1.6" fill="#474643"/><rect x="1221.5" y="1158.8" width="1.6" height="1.6" fill="#4c4b47"/><rect x="1228.7" y="1127.8" width="1.6" height="1.6" fill="#2b2a28"/><rect x="1299.8" y="1333.1" width="1.6" height="1.6" fill="#4c4b47"/><rect x="1330.9" y="1257.0" width="1.6" height="1.6" fill="#2b2a28"/><rect x="1336.5" y="1129.9" width="1.6" height="1.6" fill="#474643"/><rect x="1222.7" y="1210.2" width="1.6" height="1.6" fill="#4c4b47"/><rect x="1175.3" y="1193.5" width="1.6" height="1.6" fill="#52504c"/><rect x="1223.8" y="1190.4" width="1.6" height="1.6" fill="#2b2a28"/><rect x="1206.7" y="1280.6" width="1.6" height="1.6" fill="#474643"/><rect x="1210.6" y="1201.6" width="1.6" height="1.6" fill="#474643"/><rect x="1219.9" y="1219.2" width="1.6" height="1.6" fill="#2b2a28"/><rect x="1245.5" y="1083.3" width="1.6" height="1.6" fill="#4c4b47"/><rect x="1337.3" y="1095.4" width="1.6" height="1.6" fill="#2b2a28"/><rect x="1179.3" y="1290.7" width="1.6" height="1.6" fill="#262523"/><rect x="1312.9" y="1266.8" width="1.6" height="1.6" fill="#2b2a28"/><rect x="1224.2" y="1225.0" width="1.6" height="1.6" fill="#52504c"/><rect x="1257.1" y="1274.1" width="1.6" height="1.6" fill="#474643"/><rect x="1198.8" y="1303.9" width="1.6" height="1.6" fill="#4c4b47"/><rect x="1228.1" y="1085.7" width="1.6" height="1.6" fill="#474643"/><rect x="1269.9" y="1304.5" width="1.6" height="1.6" fill="#474643"/><rect x="1264.6" y="1130.7" width="1.6" height="1.6" fill="#2b2a28"/><rect x="1315.6" y="1200.1" width="1.6" height="1.6" fill="#2b2a28"/><rect x="1341.9" y="1189.3" width="1.6" height="1.6" fill="#2b2a28"/><rect x="1267.3" y="1077.0" width="1.6" height="1.6" fill="#4c4b47"/><rect x="1330.6" y="1354.8" width="1.6" height="1.6" fill="#2b2a28"/><rect x="1153.1" y="1124.5" width="1.6" height="1.6" fill="#2b2a28"/><rect x="1268.7" y="1223.3" width="1.6" height="1.6" fill="#4c4b47"/><rect x="1201.0" y="1214.0" width="1.6" height="1.6" fill="#4c4b47"/><rect x="1197.1" y="1305.1" width="1.6" height="1.6" fill="#2b2a28"/><rect x="1150.4" y="1069.5" width="1.6" height="1.6" fill="#52504c"/><rect x="1253.2" y="1120.8" width="1.6" height="1.6" fill="#262523"/><rect x="1192.1" y="1198.1" width="1.6" height="1.6" fill="#262523"/><rect x="1274.3" y="1227.8" width="1.6" height="1.6" fill="#262523"/><rect x="1337.1" y="1156.3" width="1.6" height="1.6" fill="#4c4b47"/><rect x="1339.5" y="1166.8" width="1.6" height="1.6" fill="#4c4b47"/><rect x="1223.9" y="1168.3" width="1.6" height="1.6" fill="#474643"/><rect x="1310.4" y="1068.3" width="1.6" height="1.6" fill="#2b2a28"/><rect x="1229.1" y="1080.6" width="1.6" height="1.6" fill="#262523"/><rect x="1317.1" y="1265.2" width="1.6" height="1.6" fill="#2b2a28"/><rect x="1262.8" y="1271.8" width="1.6" height="1.6" fill="#474643"/><rect x="1234.9" y="1111.3" width="1.6" height="1.6" fill="#262523"/><rect x="1143.7" y="1173.2" width="1.6" height="1.6" fill="#2b2a28"/><rect x="1337.5" y="1228.1" width="1.6" height="1.6" fill="#4c4b47"/><rect x="1186.6" y="1118.9" width="1.6" height="1.6" fill="#2b2a28"/><rect x="1219.3" y="1206.4" width="1.6" height="1.6" fill="#52504c"/><rect x="1274.2" y="1138.5" width="1.6" height="1.6" fill="#474643"/><rect x="1171.8" y="1240.0" width="1.6" height="1.6" fill="#262523"/><rect x="1147.5" y="1155.3" width="1.6" height="1.6" fill="#4c4b47"/><rect x="1313.6" y="1110.6" width="1.6" height="1.6" fill="#52504c"/><rect x="1220.9" y="1161.8" width="1.6" height="1.6" fill="#262523"/><rect x="1172.9" y="1281.2" width="1.6" height="1.6" fill="#4c4b47"/><rect x="1321.4" y="1252.2" width="1.6" height="1.6" fill="#52504c"/><rect x="1170.9" y="1221.1" width="1.6" height="1.6" fill="#52504c"/><rect x="1256.7" y="1307.9" width="1.6" height="1.6" fill="#474643"/><rect x="1308.3" y="1239.2" width="1.6" height="1.6" fill="#4c4b47"/><rect x="1160.0" y="1076.6" width="1.6" height="1.6" fill="#2b2a28"/><rect x="1334.9" y="1177.0" width="1.6" height="1.6" fill="#262523"/><rect x="1254.7" y="1252.3" width="1.6" height="1.6" fill="#52504c"/><rect x="1279.1" y="1210.8" width="1.6" height="1.6" fill="#474643"/><rect x="1234.4" y="1085.0" width="1.6" height="1.6" fill="#52504c"/><rect x="1322.6" y="1091.6" width="1.6" height="1.6" fill="#52504c"/><rect x="1156.2" y="1285.0" width="1.6" height="1.6" fill="#2b2a28"/><rect x="1304.8" y="1317.8" width="1.6" height="1.6" fill="#4c4b47"/><rect x="1288.9" y="1125.6" width="1.6" height="1.6" fill="#262523"/><rect x="1241.8" y="1178.8" width="1.6" height="1.6" fill="#262523"/><rect x="1325.1" y="1150.2" width="1.6" height="1.6" fill="#474643"/><rect x="1266.4" y="1256.8" width="1.6" height="1.6" fill="#474643"/><rect x="1262.9" y="1163.5" width="1.6" height="1.6" fill="#2b2a28"/><rect x="1267.2" y="1104.0" width="1.6" height="1.6" fill="#262523"/><rect x="1155.1" y="1144.6" width="1.6" height="1.6" fill="#474643"/><rect x="1281.4" y="1266.7" width="1.6" height="1.6" fill="#2b2a28"/><rect x="1284.8" y="1149.7" width="1.6" height="1.6" fill="#262523"/><rect x="1236.3" y="1099.6" width="1.6" height="1.6" fill="#52504c"/><rect x="1330.3" y="1069.3" width="1.6" height="1.6" fill="#262523"/><rect x="1158.3" y="1216.0" width="1.6" height="1.6" fill="#262523"/><rect x="1341.8" y="1180.1" width="1.6" height="1.6" fill="#4c4b47"/><rect x="1157.9" y="1091.1" width="1.6" height="1.6" fill="#52504c"/><rect x="1195.4" y="1171.9" width="1.6" height="1.6" fill="#52504c"/><rect x="1307.0" y="1216.6" width="1.6" height="1.6" fill="#474643"/><rect x="1283.7" y="1133.4" width="1.6" height="1.6" fill="#262523"/><rect x="1221.8" y="1111.7" width="1.6" height="1.6" fill="#262523"/><rect x="1279.3" y="1185.6" width="1.6" height="1.6" fill="#4c4b47"/><rect x="1226.2" y="1176.8" width="1.6" height="1.6" fill="#474643"/><rect x="1311.0" y="1064.5" width="1.6" height="1.6" fill="#2b2a28"/><rect x="1310.8" y="1100.0" width="1.6" height="1.6" fill="#4c4b47"/><rect x="1285.6" y="1334.5" width="1.6" height="1.6" fill="#2b2a28"/><rect x="1193.6" y="1083.5" width="1.6" height="1.6" fill="#262523"/><rect x="1342.8" y="1240.8" width="1.6" height="1.6" fill="#2b2a28"/><rect x="1328.1" y="1290.7" width="1.6" height="1.6" fill="#474643"/><rect x="1199.1" y="1079.5" width="1.6" height="1.6" fill="#2b2a28"/><rect x="1270.0" y="1108.7" width="1.6" height="1.6" fill="#2b2a28"/><rect x="1230.2" y="1158.7" width="1.6" height="1.6" fill="#2b2a28"/><rect x="1300.0" y="1192.3" width="1.6" height="1.6" fill="#474643"/><rect x="1305.4" y="1253.3" width="1.6" height="1.6" fill="#52504c"/><rect x="1252.8" y="1279.9" width="1.6" height="1.6" fill="#474643"/><rect x="1329.7" y="1187.3" width="1.6" height="1.6" fill="#52504c"/><rect x="1293.5" y="1257.3" width="1.6" height="1.6" fill="#2b2a28"/><rect x="1253.0" y="1115.2" width="1.6" height="1.6" fill="#262523"/><rect x="1211.7" y="1153.3" width="1.6" height="1.6" fill="#2b2a28"/><rect x="1224.2" y="1135.6" width="1.6" height="1.6" fill="#262523"/><rect x="1254.5" y="1182.3" width="1.6" height="1.6" fill="#4c4b47"/><rect x="1271.6" y="1086.6" width="1.6" height="1.6" fill="#52504c"/><rect x="1324.2" y="1213.1" width="1.6" height="1.6" fill="#4c4b47"/><rect x="1233.6" y="1163.9" width="1.6" height="1.6" fill="#262523"/><rect x="1228.5" y="1228.3" width="1.6" height="1.6" fill="#4c4b47"/><rect x="1161.1" y="1166.6" width="1.6" height="1.6" fill="#474643"/><rect x="1206.9" y="1174.5" width="1.6" height="1.6" fill="#52504c"/><rect x="1183.4" y="1070.0" width="1.6" height="1.6" fill="#262523"/><rect x="1219.6" y="1287.8" width="1.6" height="1.6" fill="#4c4b47"/><rect x="1218.4" y="1165.5" width="1.6" height="1.6" fill="#474643"/><rect x="1242.6" y="1236.3" width="1.6" height="1.6" fill="#2b2a28"/><rect x="1168.2" y="1215.0" width="1.6" height="1.6" fill="#4c4b47"/><rect x="1219.9" y="1257.7" width="1.6" height="1.6" fill="#262523"/><rect x="1333.8" y="1318.6" width="1.6" height="1.6" fill="#474643"/><rect x="1168.4" y="1191.6" width="1.6" height="1.6" fill="#262523"/><rect x="1336.7" y="1210.9" width="1.6" height="1.6" fill="#474643"/><rect x="1308.1" y="1320.6" width="1.6" height="1.6" fill="#262523"/><rect x="1192.7" y="1096.7" width="1.6" height="1.6" fill="#4c4b47"/><rect x="1283.2" y="1318.0" width="1.6" height="1.6" fill="#262523"/><rect x="1143.3" y="1101.7" width="1.6" height="1.6" fill="#52504c"/><rect x="1327.0" y="1257.7" width="1.6" height="1.6" fill="#2b2a28"/><rect x="1335.5" y="1251.9" width="1.6" height="1.6" fill="#52504c"/><rect x="1270.3" y="1273.6" width="1.6" height="1.6" fill="#474643"/><rect x="1162.9" y="1154.1" width="1.6" height="1.6" fill="#52504c"/><rect x="1181.3" y="1142.3" width="1.6" height="1.6" fill="#52504c"/><rect x="1143.2" y="1225.2" width="1.6" height="1.6" fill="#262523"/><rect x="1198.7" y="1158.9" width="1.6" height="1.6" fill="#4c4b47"/><rect x="1238.1" y="1134.4" width="1.6" height="1.6" fill="#4c4b47"/><rect x="1148.9" y="1187.5" width="1.6" height="1.6" fill="#2b2a28"/><rect x="1154.1" y="1122.2" width="1.6" height="1.6" fill="#262523"/><rect x="1159.2" y="1132.4" width="1.6" height="1.6" fill="#262523"/><rect x="1328.0" y="1132.0" width="1.6" height="1.6" fill="#474643"/><rect x="1282.2" y="1279.5" width="1.6" height="1.6" fill="#2b2a28"/><rect x="1279.5" y="1123.4" width="1.6" height="1.6" fill="#2b2a28"/><rect x="1290.8" y="1215.5" width="1.6" height="1.6" fill="#4c4b47"/><rect x="1242.1" y="1124.1" width="1.6" height="1.6" fill="#4c4b47"/><rect x="1189.2" y="1130.4" width="1.6" height="1.6" fill="#2b2a28"/><rect x="1164.8" y="1251.1" width="1.6" height="1.6" fill="#52504c"/><rect x="1180.5" y="1131.0" width="1.6" height="1.6" fill="#262523"/><rect x="1325.1" y="1080.9" width="1.6" height="1.6" fill="#52504c"/><rect x="1172.3" y="1182.0" width="1.6" height="1.6" fill="#4c4b47"/><rect x="1147.7" y="1242.8" width="1.6" height="1.6" fill="#262523"/><rect x="1153.4" y="1082.0" width="1.6" height="1.6" fill="#262523"/><rect x="1232.9" y="1277.6" width="1.6" height="1.6" fill="#2b2a28"/><rect x="1329.3" y="1162.8" width="1.6" height="1.6" fill="#4c4b47"/><rect x="1273.5" y="1221.4" width="1.6" height="1.6" fill="#262523"/><rect x="1149.4" y="1263.3" width="1.6" height="1.6" fill="#262523"/><rect x="1231.5" y="1096.7" width="1.6" height="1.6" fill="#474643"/><rect x="1199.0" y="1169.4" width="1.6" height="1.6" fill="#474643"/><rect x="1255.2" y="1291.6" width="1.6" height="1.6" fill="#262523"/><rect x="1214.3" y="1310.5" width="1.6" height="1.6" fill="#262523"/><rect x="1160.6" y="1275.6" width="1.6" height="1.6" fill="#4c4b47"/><rect x="1181.6" y="1173.3" width="1.6" height="1.6" fill="#262523"/><rect x="1149.1" y="1187.2" width="1.6" height="1.6" fill="#262523"/><rect x="1151.1" y="1074.5" width="1.6" height="1.6" fill="#474643"/><rect x="1303.7" y="1082.6" width="1.6" height="1.6" fill="#4c4b47"/><rect x="1292.5" y="1333.6" width="1.6" height="1.6" fill="#2b2a28"/><rect x="1215.6" y="1164.5" width="1.6" height="1.6" fill="#52504c"/><rect x="1151.7" y="1287.9" width="1.6" height="1.6" fill="#2b2a28"/><rect x="1327.8" y="1153.2" width="1.6" height="1.6" fill="#52504c"/><rect x="1326.3" y="1254.2" width="1.6" height="1.6" fill="#474643"/><rect x="1147.9" y="1134.2" width="1.6" height="1.6" fill="#262523"/><rect x="1286.1" y="1203.7" width="1.6" height="1.6" fill="#262523"/><rect x="1301.0" y="1338.1" width="1.6" height="1.6" fill="#262523"/><rect x="1169.5" y="1213.0" width="1.6" height="1.6" fill="#474643"/><rect x="1303.5" y="1285.5" width="1.6" height="1.6" fill="#4c4b47"/><rect x="1264.5" y="1162.3" width="1.6" height="1.6" fill="#2b2a28"/><rect x="1235.2" y="1299.1" width="1.6" height="1.6" fill="#52504c"/><rect x="1158.8" y="1123.2" width="1.6" height="1.6" fill="#4c4b47"/><rect x="1192.5" y="1083.4" width="1.6" height="1.6" fill="#474643"/><rect x="1239.3" y="1227.4" width="1.6" height="1.6" fill="#4c4b47"/><rect x="1339.1" y="1329.0" width="1.6" height="1.6" fill="#474643"/><rect x="1196.0" y="1089.2" width="1.6" height="1.6" fill="#474643"/><rect x="1337.4" y="1116.0" width="1.6" height="1.6" fill="#4c4b47"/><rect x="1226.4" y="1250.1" width="1.6" height="1.6" fill="#4c4b47"/><rect x="1292.6" y="1318.1" width="1.6" height="1.6" fill="#474643"/><rect x="1299.0" y="1152.2" width="1.6" height="1.6" fill="#2b2a28"/><rect x="1256.4" y="1175.9" width="1.6" height="1.6" fill="#2b2a28"/><rect x="1182.8" y="1138.2" width="1.6" height="1.6" fill="#4c4b47"/><rect x="1190.1" y="1148.4" width="1.6" height="1.6" fill="#52504c"/><rect x="1180.7" y="1083.4" width="1.6" height="1.6" fill="#2b2a28"/><rect x="1341.5" y="1216.2" width="1.6" height="1.6" fill="#4c4b47"/><rect x="1272.9" y="1094.2" width="1.6" height="1.6" fill="#262523"/><rect x="1341.2" y="1094.7" width="1.6" height="1.6" fill="#262523"/><rect x="1319.6" y="1133.3" width="1.6" height="1.6" fill="#262523"/><rect x="1325.9" y="1076.1" width="1.6" height="1.6" fill="#2b2a28"/><rect x="1189.6" y="1079.1" width="1.6" height="1.6" fill="#52504c"/><rect x="1337.6" y="1239.0" width="1.6" height="1.6" fill="#474643"/><rect x="1232.8" y="1142.0" width="1.6" height="1.6" fill="#474643"/><rect x="1164.2" y="1242.8" width="1.6" height="1.6" fill="#52504c"/><rect x="1212.9" y="1075.2" width="1.6" height="1.6" fill="#2b2a28"/><rect x="1171.3" y="1125.2" width="1.6" height="1.6" fill="#2b2a28"/><rect x="1150.6" y="1283.7" width="1.6" height="1.6" fill="#4c4b47"/><rect x="1305.9" y="1309.6" width="1.6" height="1.6" fill="#262523"/><rect x="1278.7" y="1119.5" width="1.6" height="1.6" fill="#2b2a28"/><rect x="1158.6" y="1073.4" width="1.6" height="1.6" fill="#262523"/><rect x="1252.6" y="1083.0" width="1.6" height="1.6" fill="#474643"/><rect x="1302.2" y="1263.2" width="1.6" height="1.6" fill="#4c4b47"/><rect x="1270.8" y="1091.3" width="1.6" height="1.6" fill="#4c4b47"/><rect x="1222.6" y="1145.4" width="1.6" height="1.6" fill="#2b2a28"/><rect x="1276.6" y="1189.4" width="1.6" height="1.6" fill="#474643"/><rect x="1205.5" y="1234.0" width="1.6" height="1.6" fill="#2b2a28"/><rect x="1225.8" y="1069.5" width="1.6" height="1.6" fill="#2b2a28"/><rect x="1271.9" y="1181.2" width="1.6" height="1.6" fill="#262523"/><rect x="1183.7" y="1065.8" width="1.6" height="1.6" fill="#4c4b47"/><rect x="1227.8" y="1310.1" width="1.6" height="1.6" fill="#262523"/><rect x="1258.6" y="1173.4" width="1.6" height="1.6" fill="#4c4b47"/><rect x="1169.0" y="1079.5" width="1.6" height="1.6" fill="#4c4b47"/><rect x="1160.8" y="1250.7" width="1.6" height="1.6" fill="#2b2a28"/><rect x="1290.4" y="1115.5" width="1.6" height="1.6" fill="#2b2a28"/><rect x="1199.7" y="1220.3" width="1.6" height="1.6" fill="#474643"/><rect x="1164.8" y="1211.2" width="1.6" height="1.6" fill="#4c4b47"/><rect x="1205.9" y="1246.3" width="1.6" height="1.6" fill="#262523"/><rect x="1160.3" y="1277.7" width="1.6" height="1.6" fill="#4c4b47"/><rect x="1271.1" y="1321.0" width="1.6" height="1.6" fill="#52504c"/><rect x="1308.8" y="1118.9" width="1.6" height="1.6" fill="#4c4b47"/><rect x="1174.3" y="1171.8" width="1.6" height="1.6" fill="#4c4b47"/><rect x="1192.4" y="1281.5" width="1.6" height="1.6" fill="#4c4b47"/><rect x="1151.2" y="1232.7" width="1.6" height="1.6" fill="#474643"/><rect x="1276.6" y="1161.3" width="1.6" height="1.6" fill="#262523"/><rect x="1262.9" y="1229.0" width="1.6" height="1.6" fill="#2b2a28"/><rect x="1272.8" y="1156.5" width="1.6" height="1.6" fill="#4c4b47"/><rect x="1228.1" y="1261.7" width="1.6" height="1.6" fill="#262523"/><rect x="1243.7" y="1117.6" width="1.6" height="1.6" fill="#474643"/><rect x="1266.8" y="1210.9" width="1.6" height="1.6" fill="#4c4b47"/><rect x="1232.4" y="1249.6" width="1.6" height="1.6" fill="#262523"/><rect x="1310.3" y="1307.2" width="1.6" height="1.6" fill="#262523"/><rect x="1164.4" y="1102.5" width="1.6" height="1.6" fill="#262523"/><rect x="1216.1" y="1304.7" width="1.6" height="1.6" fill="#52504c"/><rect x="1245.0" y="1076.2" width="1.6" height="1.6" fill="#4c4b47"/><rect x="1159.4" y="1284.0" width="1.6" height="1.6" fill="#52504c"/><rect x="1159.0" y="1289.6" width="1.6" height="1.6" fill="#262523"/><rect x="1273.5" y="1299.3" width="1.6" height="1.6" fill="#474643"/><rect x="1289.4" y="1308.5" width="1.6" height="1.6" fill="#4c4b47"/><rect x="1200.6" y="1307.3" width="1.6" height="1.6" fill="#4c4b47"/><rect x="1280.2" y="1280.3" width="1.6" height="1.6" fill="#4c4b47"/><rect x="1156.1" y="1169.3" width="1.6" height="1.6" fill="#2b2a28"/><rect x="1171.7" y="1214.7" width="1.6" height="1.6" fill="#262523"/><rect x="1184.7" y="1142.9" width="1.6" height="1.6" fill="#52504c"/><rect x="1190.5" y="1175.7" width="1.6" height="1.6" fill="#4c4b47"/><rect x="1179.4" y="1112.4" width="1.6" height="1.6" fill="#2b2a28"/><rect x="1278.9" y="1332.6" width="1.6" height="1.6" fill="#4c4b47"/><rect x="1301.4" y="1143.3" width="1.6" height="1.6" fill="#52504c"/><rect x="1336.2" y="1199.9" width="1.6" height="1.6" fill="#52504c"/><rect x="1259.0" y="1328.8" width="1.6" height="1.6" fill="#474643"/><rect x="1193.4" y="1224.7" width="1.6" height="1.6" fill="#262523"/><rect x="1290.6" y="1175.4" width="1.6" height="1.6" fill="#262523"/><rect x="1341.1" y="1237.2" width="1.6" height="1.6" fill="#2b2a28"/><rect x="1209.2" y="1088.4" width="1.6" height="1.6" fill="#4c4b47"/><rect x="1178.4" y="1287.1" width="1.6" height="1.6" fill="#474643"/><rect x="1202.3" y="1218.8" width="1.6" height="1.6" fill="#2b2a28"/><rect x="1260.2" y="1263.1" width="1.6" height="1.6" fill="#2b2a28"/><rect x="1289.6" y="1288.1" width="1.6" height="1.6" fill="#4c4b47"/><rect x="1172.9" y="1248.8" width="1.6" height="1.6" fill="#262523"/><rect x="1226.5" y="1173.2" width="1.6" height="1.6" fill="#474643"/><rect x="1169.4" y="1132.2" width="1.6" height="1.6" fill="#474643"/><rect x="1147.5" y="1064.8" width="1.6" height="1.6" fill="#2b2a28"/><rect x="1203.7" y="1220.9" width="1.6" height="1.6" fill="#52504c"/><rect x="1187.9" y="1239.1" width="1.6" height="1.6" fill="#52504c"/><rect x="1169.7" y="1173.9" width="1.6" height="1.6" fill="#262523"/><rect x="1174.7" y="1068.2" width="1.6" height="1.6" fill="#4c4b47"/><rect x="1284.5" y="1199.3" width="1.6" height="1.6" fill="#474643"/><rect x="1270.6" y="1325.4" width="1.6" height="1.6" fill="#2b2a28"/><rect x="1223.4" y="1143.3" width="1.6" height="1.6" fill="#474643"/><rect x="1321.5" y="1242.4" width="1.6" height="1.6" fill="#52504c"/><rect x="1289.7" y="1138.5" width="1.6" height="1.6" fill="#474643"/><rect x="1151.8" y="1223.5" width="1.6" height="1.6" fill="#262523"/><rect x="1180.1" y="1111.8" width="1.6" height="1.6" fill="#474643"/><rect x="1145.5" y="1229.3" width="1.6" height="1.6" fill="#4c4b47"/><rect x="1171.5" y="1123.9" width="1.6" height="1.6" fill="#52504c"/><rect x="1271.5" y="1258.3" width="1.6" height="1.6" fill="#262523"/><rect x="1305.7" y="1116.4" width="1.6" height="1.6" fill="#2b2a28"/><rect x="1155.8" y="1251.8" width="1.6" height="1.6" fill="#262523"/><rect x="1286.1" y="1065.9" width="1.6" height="1.6" fill="#262523"/><rect x="1292.0" y="1203.6" width="1.6" height="1.6" fill="#262523"/><rect x="1195.3" y="1257.2" width="1.6" height="1.6" fill="#474643"/><rect x="1210.1" y="1288.9" width="1.6" height="1.6" fill="#2b2a28"/><rect x="1285.3" y="1143.8" width="1.6" height="1.6" fill="#52504c"/><rect x="1278.8" y="1269.7" width="1.6" height="1.6" fill="#52504c"/><rect x="1337.4" y="1152.7" width="1.6" height="1.6" fill="#4c4b47"/><rect x="1160.1" y="1216.2" width="1.6" height="1.6" fill="#4c4b47"/><rect x="1195.1" y="1134.8" width="1.6" height="1.6" fill="#4c4b47"/><rect x="1331.9" y="1287.8" width="1.6" height="1.6" fill="#2b2a28"/><rect x="1181.4" y="1180.6" width="1.6" height="1.6" fill="#52504c"/><rect x="1269.1" y="1271.9" width="1.6" height="1.6" fill="#52504c"/><rect x="1236.9" y="1315.9" width="1.6" height="1.6" fill="#474643"/><rect x="1314.5" y="1195.2" width="1.6" height="1.6" fill="#4c4b47"/><rect x="1257.1" y="1156.3" width="1.6" height="1.6" fill="#4c4b47"/><rect x="1221.3" y="1239.6" width="1.6" height="1.6" fill="#52504c"/><rect x="1325.2" y="1107.4" width="1.6" height="1.6" fill="#474643"/><rect x="1165.4" y="1250.6" width="1.6" height="1.6" fill="#4c4b47"/><rect x="1212.0" y="1106.6" width="1.6" height="1.6" fill="#474643"/><rect x="1149.2" y="1105.5" width="1.6" height="1.6" fill="#474643"/><rect x="1282.4" y="1285.0" width="1.6" height="1.6" fill="#474643"/><rect x="1314.3" y="1292.5" width="1.6" height="1.6" fill="#4c4b47"/><rect x="1306.5" y="1309.9" width="1.6" height="1.6" fill="#474643"/><rect x="1318.9" y="1290.7" width="1.6" height="1.6" fill="#262523"/><rect x="1164.4" y="1125.7" width="1.6" height="1.6" fill="#474643"/><rect x="1325.2" y="1290.1" width="1.6" height="1.6" fill="#474643"/><rect x="1308.0" y="1253.5" width="1.6" height="1.6" fill="#2b2a28"/><rect x="1238.4" y="1103.8" width="1.6" height="1.6" fill="#4c4b47"/><rect x="1201.9" y="1165.0" width="1.6" height="1.6" fill="#2b2a28"/><rect x="1147.2" y="1141.0" width="1.6" height="1.6" fill="#2b2a28"/><rect x="1325.1" y="1294.8" width="1.6" height="1.6" fill="#52504c"/><rect x="1243.7" y="1319.4" width="1.6" height="1.6" fill="#52504c"/><rect x="1292.1" y="1300.7" width="1.6" height="1.6" fill="#474643"/><rect x="1230.3" y="1295.9" width="1.6" height="1.6" fill="#2b2a28"/><rect x="1236.8" y="1078.4" width="1.6" height="1.6" fill="#52504c"/><rect x="1177.1" y="1064.4" width="1.6" height="1.6" fill="#4c4b47"/><rect x="1200.7" y="1289.2" width="1.6" height="1.6" fill="#474643"/><rect x="1143.9" y="1211.2" width="1.6" height="1.6" fill="#262523"/><rect x="1282.0" y="1311.6" width="1.6" height="1.6" fill="#262523"/><rect x="1246.0" y="1237.4" width="1.6" height="1.6" fill="#4c4b47"/><rect x="1199.7" y="1128.4" width="1.6" height="1.6" fill="#4c4b47"/><rect x="1242.7" y="1097.0" width="1.6" height="1.6" fill="#474643"/><rect x="1255.3" y="1095.4" width="1.6" height="1.6" fill="#2b2a28"/><rect x="1214.1" y="1184.4" width="1.6" height="1.6" fill="#262523"/><rect x="1321.4" y="1287.6" width="1.6" height="1.6" fill="#262523"/><rect x="1320.7" y="1071.6" width="1.6" height="1.6" fill="#4c4b47"/><rect x="1203.6" y="1192.4" width="1.6" height="1.6" fill="#52504c"/><rect x="1243.2" y="1177.8" width="1.6" height="1.6" fill="#4c4b47"/><rect x="1331.8" y="1102.1" width="1.6" height="1.6" fill="#52504c"/><rect x="1293.9" y="1289.9" width="1.6" height="1.6" fill="#474643"/><rect x="1212.7" y="1162.0" width="1.6" height="1.6" fill="#4c4b47"/><rect x="1316.6" y="1199.1" width="1.6" height="1.6" fill="#52504c"/><rect x="1291.4" y="1114.9" width="1.6" height="1.6" fill="#262523"/><rect x="1280.8" y="1141.2" width="1.6" height="1.6" fill="#4c4b47"/><rect x="1168.2" y="1202.6" width="1.6" height="1.6" fill="#4c4b47"/><rect x="1244.5" y="1144.2" width="1.6" height="1.6" fill="#52504c"/><rect x="1173.9" y="1110.8" width="1.6" height="1.6" fill="#4c4b47"/><rect x="1287.6" y="1244.9" width="1.6" height="1.6" fill="#2b2a28"/><rect x="1175.2" y="1162.4" width="1.6" height="1.6" fill="#4c4b47"/><rect x="1342.0" y="1113.4" width="1.6" height="1.6" fill="#474643"/><rect x="1182.1" y="1109.3" width="1.6" height="1.6" fill="#4c4b47"/><rect x="1302.0" y="1284.0" width="1.6" height="1.6" fill="#262523"/><rect x="1197.8" y="1096.8" width="1.6" height="1.6" fill="#474643"/><rect x="1235.8" y="1067.8" width="1.6" height="1.6" fill="#262523"/><rect x="1281.7" y="1214.1" width="1.6" height="1.6" fill="#2b2a28"/><rect x="1235.7" y="1106.5" width="1.6" height="1.6" fill="#52504c"/><rect x="1290.6" y="1065.7" width="1.6" height="1.6" fill="#4c4b47"/><rect x="1324.6" y="1193.0" width="1.6" height="1.6" fill="#52504c"/><rect x="1260.5" y="1258.2" width="1.6" height="1.6" fill="#4c4b47"/><rect x="1276.6" y="1259.7" width="1.6" height="1.6" fill="#52504c"/><rect x="1313.5" y="1267.9" width="1.6" height="1.6" fill="#474643"/><rect x="1233.8" y="1157.9" width="1.6" height="1.6" fill="#474643"/><rect x="1321.9" y="1136.7" width="1.6" height="1.6" fill="#262523"/><rect x="1285.6" y="1252.9" width="1.6" height="1.6" fill="#2b2a28"/><rect x="1312.9" y="1208.8" width="1.6" height="1.6" fill="#474643"/><rect x="1267.3" y="1186.8" width="1.6" height="1.6" fill="#4c4b47"/><rect x="1321.9" y="1162.4" width="1.6" height="1.6" fill="#474643"/><rect x="1220.7" y="1211.0" width="1.6" height="1.6" fill="#474643"/><rect x="1150.6" y="1227.0" width="1.6" height="1.6" fill="#4c4b47"/><rect x="1183.0" y="1168.5" width="1.6" height="1.6" fill="#52504c"/><rect x="1234.4" y="1125.5" width="1.6" height="1.6" fill="#262523"/><rect x="1245.4" y="1255.8" width="1.6" height="1.6" fill="#2b2a28"/><rect x="1247.3" y="1187.1" width="1.6" height="1.6" fill="#262523"/><rect x="1185.0" y="1269.3" width="1.6" height="1.6" fill="#262523"/><rect x="1288.8" y="1248.2" width="1.6" height="1.6" fill="#474643"/><rect x="1193.5" y="1178.6" width="1.6" height="1.6" fill="#474643"/><rect x="1145.7" y="1189.6" width="1.6" height="1.6" fill="#262523"/><rect x="1268.7" y="1266.5" width="1.6" height="1.6" fill="#52504c"/><rect x="1196.0" y="1131.3" width="1.6" height="1.6" fill="#262523"/><rect x="1331.0" y="1222.1" width="1.6" height="1.6" fill="#4c4b47"/><rect x="1341.8" y="1352.3" width="1.6" height="1.6" fill="#262523"/><rect x="1185.4" y="1102.8" width="1.6" height="1.6" fill="#474643"/><rect x="1304.9" y="1254.3" width="1.6" height="1.6" fill="#262523"/><rect x="1271.4" y="1280.2" width="1.6" height="1.6" fill="#4c4b47"/><rect x="1213.6" y="1255.6" width="1.6" height="1.6" fill="#262523"/><rect x="1236.6" y="1152.3" width="1.6" height="1.6" fill="#52504c"/><rect x="1272.9" y="1298.0" width="1.6" height="1.6" fill="#262523"/><rect x="1196.5" y="1176.8" width="1.6" height="1.6" fill="#2b2a28"/><rect x="1339.6" y="1267.6" width="1.6" height="1.6" fill="#262523"/><rect x="1143.5" y="1280.5" width="1.6" height="1.6" fill="#2b2a28"/><rect x="1214.6" y="1260.3" width="1.6" height="1.6" fill="#2b2a28"/><rect x="1238.9" y="1192.5" width="1.6" height="1.6" fill="#474643"/><rect x="1274.9" y="1172.7" width="1.6" height="1.6" fill="#2b2a28"/><rect x="1313.9" y="1081.1" width="1.6" height="1.6" fill="#52504c"/><rect x="1324.2" y="1299.2" width="1.6" height="1.6" fill="#4c4b47"/><rect x="1249.1" y="1167.5" width="1.6" height="1.6" fill="#52504c"/><rect x="1146.0" y="1067.4" width="1.6" height="1.6" fill="#474643"/><rect x="1274.2" y="1139.0" width="1.6" height="1.6" fill="#474643"/><rect x="1258.7" y="1320.3" width="1.6" height="1.6" fill="#4c4b47"/><rect x="1298.3" y="1167.9" width="1.6" height="1.6" fill="#4c4b47"/><rect x="1184.7" y="1184.7" width="1.6" height="1.6" fill="#52504c"/><rect x="1264.7" y="1298.4" width="1.6" height="1.6" fill="#52504c"/><rect x="1300.6" y="1315.6" width="1.6" height="1.6" fill="#4c4b47"/><rect x="1241.9" y="1127.9" width="1.6" height="1.6" fill="#474643"/><rect x="1291.4" y="1195.6" width="1.6" height="1.6" fill="#474643"/><rect x="1254.0" y="1143.3" width="1.6" height="1.6" fill="#4c4b47"/><rect x="1308.4" y="1206.0" width="1.6" height="1.6" fill="#52504c"/><rect x="1154.7" y="1204.1" width="1.6" height="1.6" fill="#4c4b47"/><rect x="1283.1" y="1138.0" width="1.6" height="1.6" fill="#4c4b47"/><rect x="1250.9" y="1322.9" width="1.6" height="1.6" fill="#474643"/><rect x="1175.1" y="1160.2" width="1.6" height="1.6" fill="#52504c"/><rect x="1242.5" y="1153.0" width="1.6" height="1.6" fill="#262523"/><rect x="1218.0" y="1189.6" width="1.6" height="1.6" fill="#474643"/><rect x="1179.1" y="1172.1" width="1.6" height="1.6" fill="#474643"/><rect x="1147.1" y="1077.8" width="1.6" height="1.6" fill="#2b2a28"/><rect x="1304.7" y="1092.2" width="1.6" height="1.6" fill="#262523"/><rect x="1149.8" y="1279.5" width="1.6" height="1.6" fill="#4c4b47"/><rect x="1216.2" y="1206.4" width="1.6" height="1.6" fill="#52504c"/><rect x="1199.8" y="1166.6" width="1.6" height="1.6" fill="#2b2a28"/><rect x="1253.8" y="1312.0" width="1.6" height="1.6" fill="#2b2a28"/><rect x="1214.0" y="1212.1" width="1.6" height="1.6" fill="#2b2a28"/><rect x="1243.7" y="1145.5" width="1.6" height="1.6" fill="#52504c"/><rect x="1212.0" y="1125.1" width="1.6" height="1.6" fill="#262523"/><rect x="1301.4" y="1163.3" width="1.6" height="1.6" fill="#2b2a28"/><rect x="1285.6" y="1102.3" width="1.6" height="1.6" fill="#474643"/><rect x="1299.8" y="1076.0" width="1.6" height="1.6" fill="#52504c"/><rect x="1320.1" y="1227.6" width="1.6" height="1.6" fill="#474643"/><rect x="1222.7" y="1096.6" width="1.6" height="1.6" fill="#474643"/><rect x="1264.7" y="1261.4" width="1.6" height="1.6" fill="#52504c"/><rect x="1325.0" y="1247.5" width="1.6" height="1.6" fill="#52504c"/><rect x="1172.4" y="1266.1" width="1.6" height="1.6" fill="#52504c"/><rect x="1318.3" y="1088.9" width="1.6" height="1.6" fill="#474643"/><rect x="1276.4" y="1201.4" width="1.6" height="1.6" fill="#4c4b47"/><rect x="1163.3" y="1118.4" width="1.6" height="1.6" fill="#474643"/><rect x="1227.3" y="1094.2" width="1.6" height="1.6" fill="#474643"/><rect x="1216.8" y="1310.8" width="1.6" height="1.6" fill="#2b2a28"/><rect x="1255.4" y="1141.4" width="1.6" height="1.6" fill="#2b2a28"/><rect x="1180.0" y="1074.3" width="1.6" height="1.6" fill="#474643"/><rect x="1229.1" y="1256.5" width="1.6" height="1.6" fill="#474643"/><rect x="1242.6" y="1220.6" width="1.6" height="1.6" fill="#474643"/><rect x="1297.8" y="1190.3" width="1.6" height="1.6" fill="#262523"/><rect x="1232.3" y="1068.2" width="1.6" height="1.6" fill="#262523"/><rect x="1274.9" y="1110.6" width="1.6" height="1.6" fill="#262523"/><rect x="1252.8" y="1088.9" width="1.6" height="1.6" fill="#262523"/><rect x="1185.5" y="1109.5" width="1.6" height="1.6" fill="#474643"/><rect x="1228.4" y="1066.8" width="1.6" height="1.6" fill="#474643"/><rect x="1340.3" y="1321.5" width="1.6" height="1.6" fill="#4c4b47"/><rect x="1316.9" y="1102.7" width="1.6" height="1.6" fill="#474643"/><rect x="1198.1" y="1234.7" width="1.6" height="1.6" fill="#262523"/><rect x="1289.7" y="1120.2" width="1.6" height="1.6" fill="#474643"/><rect x="1216.2" y="1288.2" width="1.6" height="1.6" fill="#4c4b47"/><rect x="1288.9" y="1089.3" width="1.6" height="1.6" fill="#52504c"/><rect x="1284.8" y="1202.2" width="1.6" height="1.6" fill="#2b2a28"/><rect x="1325.7" y="1079.8" width="1.6" height="1.6" fill="#474643"/><rect x="1145.3" y="1068.4" width="1.6" height="1.6" fill="#52504c"/><rect x="1158.9" y="1157.3" width="1.6" height="1.6" fill="#52504c"/><rect x="1240.3" y="1081.9" width="1.6" height="1.6" fill="#2b2a28"/><rect x="1332.8" y="1282.3" width="1.6" height="1.6" fill="#262523"/><rect x="1278.4" y="1107.5" width="1.6" height="1.6" fill="#474643"/><rect x="1215.7" y="1257.5" width="1.6" height="1.6" fill="#262523"/><rect x="1238.4" y="1297.4" width="1.6" height="1.6" fill="#262523"/><rect x="1332.0" y="1299.4" width="1.6" height="1.6" fill="#52504c"/><rect x="1209.8" y="1148.0" width="1.6" height="1.6" fill="#52504c"/><rect x="1337.8" y="1275.0" width="1.6" height="1.6" fill="#52504c"/><rect x="1209.4" y="1245.7" width="1.6" height="1.6" fill="#474643"/><rect x="1309.3" y="1244.3" width="1.6" height="1.6" fill="#2b2a28"/><rect x="1192.2" y="1180.2" width="1.6" height="1.6" fill="#262523"/><rect x="1263.4" y="1332.8" width="1.6" height="1.6" fill="#262523"/><rect x="1199.7" y="1064.5" width="1.6" height="1.6" fill="#2b2a28"/><rect x="1196.6" y="1111.2" width="1.6" height="1.6" fill="#474643"/><rect x="1200.7" y="1106.2" width="1.6" height="1.6" fill="#52504c"/><rect x="1302.5" y="1228.4" width="1.6" height="1.6" fill="#262523"/><rect x="1212.4" y="1089.5" width="1.6" height="1.6" fill="#52504c"/><rect x="1240.0" y="1178.5" width="1.6" height="1.6" fill="#4c4b47"/><rect x="1204.9" y="1081.3" width="1.6" height="1.6" fill="#262523"/><rect x="1236.1" y="1126.0" width="1.6" height="1.6" fill="#2b2a28"/><rect x="1260.3" y="1066.8" width="1.6" height="1.6" fill="#262523"/><rect x="1234.9" y="1090.3" width="1.6" height="1.6" fill="#2b2a28"/><rect x="1297.4" y="1133.9" width="1.6" height="1.6" fill="#52504c"/><rect x="1247.2" y="1141.9" width="1.6" height="1.6" fill="#52504c"/><rect x="1207.2" y="1215.9" width="1.6" height="1.6" fill="#4c4b47"/><rect x="1180.8" y="1121.7" width="1.6" height="1.6" fill="#4c4b47"/><rect x="1304.2" y="1150.9" width="1.6" height="1.6" fill="#52504c"/><rect x="1255.9" y="1184.7" width="1.6" height="1.6" fill="#52504c"/><rect x="1314.4" y="1137.9" width="1.6" height="1.6" fill="#262523"/><rect x="1217.8" y="1095.8" width="1.6" height="1.6" fill="#262523"/><rect x="1300.5" y="1110.8" width="1.6" height="1.6" fill="#52504c"/><rect x="1149.1" y="1148.2" width="1.6" height="1.6" fill="#52504c"/><rect x="1147.1" y="1074.1" width="1.6" height="1.6" fill="#52504c"/><rect x="1240.3" y="1234.2" width="1.6" height="1.6" fill="#2b2a28"/><rect x="1328.1" y="1147.9" width="1.6" height="1.6" fill="#474643"/><rect x="1332.3" y="1294.2" width="1.6" height="1.6" fill="#52504c"/><rect x="1335.7" y="1140.2" width="1.6" height="1.6" fill="#474643"/><rect x="1218.6" y="1072.3" width="1.6" height="1.6" fill="#474643"/><rect x="1254.5" y="1325.2" width="1.6" height="1.6" fill="#262523"/><rect x="1240.4" y="1317.7" width="1.6" height="1.6" fill="#474643"/><rect x="1315.6" y="1256.0" width="1.6" height="1.6" fill="#474643"/><rect x="1284.3" y="1091.0" width="1.6" height="1.6" fill="#2b2a28"/><rect x="1255.9" y="1256.2" width="1.6" height="1.6" fill="#52504c"/><rect x="1221.6" y="1198.5" width="1.6" height="1.6" fill="#4c4b47"/><rect x="1217.2" y="1134.5" width="1.6" height="1.6" fill="#4c4b47"/><rect x="1331.2" y="1081.8" width="1.6" height="1.6" fill="#52504c"/><rect x="1323.9" y="1315.2" width="1.6" height="1.6" fill="#474643"/><rect x="1194.6" y="1218.0" width="1.6" height="1.6" fill="#262523"/><rect x="1154.2" y="1107.4" width="1.6" height="1.6" fill="#474643"/><rect x="1330.9" y="1267.1" width="1.6" height="1.6" fill="#2b2a28"/><rect x="1261.0" y="1196.4" width="1.6" height="1.6" fill="#474643"/><rect x="1237.1" y="1175.5" width="1.6" height="1.6" fill="#262523"/><rect x="1167.8" y="1208.4" width="1.6" height="1.6" fill="#4c4b47"/><rect x="1231.3" y="1306.3" width="1.6" height="1.6" fill="#474643"/><rect x="1302.8" y="1111.1" width="1.6" height="1.6" fill="#4c4b47"/><rect x="1158.6" y="1249.6" width="1.6" height="1.6" fill="#2b2a28"/><rect x="1320.7" y="1105.9" width="1.6" height="1.6" fill="#262523"/><rect x="1334.6" y="1341.8" width="1.6" height="1.6" fill="#262523"/><rect x="1311.4" y="1252.5" width="1.6" height="1.6" fill="#262523"/><rect x="1337.5" y="1160.8" width="1.6" height="1.6" fill="#4c4b47"/><rect x="1238.5" y="1252.5" width="1.6" height="1.6" fill="#4c4b47"/><rect x="1209.4" y="1284.8" width="1.6" height="1.6" fill="#4c4b47"/><rect x="1285.7" y="1230.0" width="1.6" height="1.6" fill="#4c4b47"/><rect x="1230.8" y="1108.8" width="1.6" height="1.6" fill="#262523"/><rect x="1225.4" y="1110.7" width="1.6" height="1.6" fill="#2b2a28"/><rect x="1257.2" y="1153.0" width="1.6" height="1.6" fill="#4c4b47"/><rect x="1195.1" y="1096.8" width="1.6" height="1.6" fill="#262523"/><rect x="1323.6" y="1098.3" width="1.6" height="1.6" fill="#52504c"/><rect x="1276.7" y="1127.3" width="1.6" height="1.6" fill="#262523"/><rect x="1310.1" y="1099.8" width="1.6" height="1.6" fill="#4c4b47"/><rect x="1337.1" y="1193.6" width="1.6" height="1.6" fill="#2b2a28"/><rect x="1342.6" y="1341.5" width="1.6" height="1.6" fill="#474643"/><rect x="1221.0" y="1188.7" width="1.6" height="1.6" fill="#4c4b47"/><rect x="1154.5" y="1281.9" width="1.6" height="1.6" fill="#2b2a28"/><rect x="1171.9" y="1255.9" width="1.6" height="1.6" fill="#262523"/><rect x="1304.4" y="1166.3" width="1.6" height="1.6" fill="#4c4b47"/><rect x="1231.6" y="1300.9" width="1.6" height="1.6" fill="#52504c"/><rect x="1200.3" y="1172.0" width="1.6" height="1.6" fill="#474643"/><rect x="1325.4" y="1129.5" width="1.6" height="1.6" fill="#52504c"/><rect x="1247.3" y="1133.1" width="1.6" height="1.6" fill="#4c4b47"/><rect x="1182.3" y="1087.8" width="1.6" height="1.6" fill="#474643"/><rect x="1320.9" y="1283.3" width="1.6" height="1.6" fill="#2b2a28"/><rect x="1178.1" y="1105.1" width="1.6" height="1.6" fill="#4c4b47"/><rect x="1259.6" y="1124.7" width="1.6" height="1.6" fill="#474643"/><rect x="1281.4" y="1219.9" width="1.6" height="1.6" fill="#474643"/><rect x="1246.7" y="1168.3" width="1.6" height="1.6" fill="#2b2a28"/><rect x="1311.4" y="1323.4" width="1.6" height="1.6" fill="#262523"/><rect x="1161.1" y="1186.9" width="1.6" height="1.6" fill="#262523"/><rect x="1169.7" y="1263.6" width="1.6" height="1.6" fill="#4c4b47"/><rect x="1216.4" y="1113.0" width="1.6" height="1.6" fill="#2b2a28"/>
<polygon points="1340,1062 1352,1062 1350,1370 1338,1365" fill="#2a2a29"/>
<polygon points="1359,1062 1565,1062 1560,1368 1359,1288" fill="#2a2b2d"/>
<polygon points="1364,1073 1552,1076 1547,1352 1364,1282" fill="#d6dde6"/>
<polygon points="104.4,999.4 106.7,1025.6 113.5,1057.4 123.8,1076.8 139.7,1089.3 169.3,1100.7 204.6,1104.1 230.8,1074.5 242.2,1128.1 136.3,1186.2 156.8,1160.0 137.4,1156.5 117.0,1148.6 97.6,1131.5 91.9,1105.3 90.8,1076.8 93.0,1042.6 97.6,1019.9" fill="#dcdcda" />
<polygon points="84.5,1046.0 87.3,1071.1 94.2,1088.2 107.8,1103.0 128.3,1113.3 153.4,1116.7 167.1,1099.6 176.2,1131.5 107.8,1171.3 119.2,1154.3 99.9,1147.4 85.1,1132.6 78.2,1116.7 75.9,1093.9 78.2,1068.8" fill="#fbecdb" />
<polygon points="97.5,1341.5 120.7,1361.7 148.7,1377.2 172.0,1383.4 195.3,1380.3 215.5,1371.0 241.9,1347.7 241.9,1312.8 286.9,1343.0 246.5,1459.5 246.5,1425.3 226.3,1437.8 200.0,1445.0 175.0,1440.0 150.0,1425.0 125.0,1400.0 110.0,1375.0" fill="#cde5ec" />
<polygon points="116.1,1391.2 133.2,1405.2 150.0,1415.0 167.3,1420.7 195.0,1418.0 215.0,1410.0 237.2,1392.7 232.0,1420.0 215.5,1468.8 215.5,1450.2 187.5,1456.4 164.2,1450.2 140.9,1431.6" fill="#bcdce5" />
<polygon points="116.1,1391.2 133.2,1405.2 150.0,1415.0 167.3,1420.7 164.2,1450.2 140.9,1431.6" fill="#c6e8f1" />
<path d="M487,1037 L519,1051 L511,1416 L494,1422 L487,1420 Z" fill="#e7ebf3"/>
<path d="M489,1068 L507,1070 L506,1402 L489,1404 Z" fill="#f2f5fa"/>
<path d="M492,1072 L506,1074 L505,1398 L492,1400 Z" fill="#d8e1ee"/>
<path d="M495,1080 L504,1081 L503,1392 L495,1393 Z" fill="#ccd7e8"/>
<line x1="489" y1="1100" x2="494" y2="1100.5" stroke="#aab3c2" stroke-width="1.2"/>
<line x1="489" y1="1130" x2="494" y2="1130.5" stroke="#aab3c2" stroke-width="1.2"/>
<line x1="489" y1="1160" x2="494" y2="1160.5" stroke="#aab3c2" stroke-width="1.2"/>
<line x1="489" y1="1190" x2="494" y2="1190.5" stroke="#aab3c2" stroke-width="1.2"/>
<line x1="489" y1="1220" x2="494" y2="1220.5" stroke="#aab3c2" stroke-width="1.2"/>
<line x1="489" y1="1250" x2="494" y2="1250.5" stroke="#aab3c2" stroke-width="1.2"/>
<line x1="489" y1="1280" x2="494" y2="1280.5" stroke="#aab3c2" stroke-width="1.2"/>
<line x1="489" y1="1310" x2="494" y2="1310.5" stroke="#aab3c2" stroke-width="1.2"/>
<line x1="489" y1="1340" x2="494" y2="1340.5" stroke="#aab3c2" stroke-width="1.2"/>
<line x1="489" y1="1370" x2="494" y2="1370.5" stroke="#aab3c2" stroke-width="1.2"/>
<defs><linearGradient id="lp" x1="0" x2="1" y1="0" y2="0"><stop offset="0" stop-color="#dcdad7"/><stop offset="0.5" stop-color="#e2e2e1"/><stop offset="1" stop-color="#e6e8ec"/></linearGradient></defs>
<path d="M240.6,999.4 C300,986 390,972 467,967 Q481,966 484.8,977.4 L487.6,1406 C440,1392 380,1366 329.8,1339.7 C300,1326 270,1310 250.2,1299.9 C246,1200 242,1100 240.6,999.4 Z" fill="url(#lp)"/>
<path d="M467,967 Q481,966 484.8,977.4 L487.6,1406 L481,1404 L479,980 Q477,970 467,967 Z" fill="#eceef2"/>
<text x="331" y="1304" font-size="9" fill="#6aa84f">ecoair</text>
<polygon points="497.0,1315.0 578.5,1339.6 554.8,1342.9 563.0,1357.0 545.0,1370.0 524.0,1371.0 514.7,1360.6 505.4,1350.3 479.3,1353.1" fill="#88ddf3" />
<polygon points="533.4,1348.4 586.9,1365.2 574.3,1367.1 579.9,1379.2 581.8,1393.2 577.1,1416.5 563.2,1435.1 544.5,1450.9 553.9,1428.6 557.6,1411.8 553.9,1393.2 538.9,1372.7 524.0,1370.8" fill="#bff2f6" />
<polygon points="524.0,1372.0 538.9,1372.7 553.9,1393.2 557.6,1411.8 553.9,1428.6 542.7,1444.4 511.9,1469.6 525.9,1449.1 531.5,1430.4 533.4,1402.5 525.9,1379.2" fill="#88ddf3" />
<polygon points="517.7,1194.4 679.0,1194.4 652.4,1175.5 857.0,1214.0 769.5,1253.4 738.0,1232.5 574.7,1232.5 550.0,1212.0" fill="#dcdcda" />
<polygon points="519.7,1208.9 604.2,1208.9 594.4,1199.7 704.6,1218.3 657.4,1237.0 643.6,1227.8 551.1,1227.2" fill="#b8eef5" />
<polygon points="665.2,1199.7 702.6,1199.7 698.7,1194.7 746.9,1204.2 728.2,1212.4 722.3,1208.5 673.1,1207.5" fill="#fbe9d4" />
<polygon points="738.0,1212.1 775.4,1212.1 771.4,1206.5 821.6,1218.0 801.0,1230.2 793.1,1224.2 749.8,1224.2" fill="#b0d4e0" />
<defs><linearGradient id="side" x1="0" x2="1" y1="0" y2="0"><stop offset="0" stop-color="#f4f4f6"/><stop offset="0.6" stop-color="#eceef1"/><stop offset="1" stop-color="#dfe1e7"/></linearGradient></defs>
<path d="M1898,885 Q1906,884 1912,889 C1935,905 1955,935 1962,960 C1972,990 1978,1040 1981,1120 L1984,1357 L1982.6,1390 L1979.5,1419.5 C1975,1432 1965,1438 1950,1443 L1930,1448 L1926,1000 Z" fill="url(#side)"/>
<path d="M1611,1064 L1907,1031 L1918,995 L1932,1020 L1932,1448 L1926,1452 L1666,1358 L1600,1342 C1595,1300 1593,1250 1593.5,1205 C1594,1140 1598,1090 1611,1064 Z" fill="#242323"/>
<path d="M1634,1078 L1905,1062 L1905,1418 L1634,1330 Z" fill="#393734"/>
<path d="M1607,1084 L1634,1078 L1634,1330 L1605,1322 Z" fill="#1c1c1c"/>
<path d="M1634,1100 L1656,1098 L1656,1336 L1634,1330 Z" fill="#262524"/>
<path d="M1600,1336 L1634,1330 L1905,1418 L1926,1450 L1666,1358 Z" fill="#2e2a26"/>
<rect x="1660" y="1176" width="24" height="12" fill="#2c2b29"/>
<ellipse cx="1787" cy="1198" rx="74" ry="103" fill="#1b1b1b"/>
<line x1="1823.0" y1="1198.0" x2="1859.0" y2="1198.0" stroke="#4f4c48" stroke-width="1.5"/><line x1="1822.1" y1="1209.1" x2="1857.2" y2="1220.5" stroke="#4f4c48" stroke-width="1.5"/><line x1="1819.4" y1="1219.7" x2="1851.9" y2="1241.8" stroke="#4f4c48" stroke-width="1.5"/><line x1="1815.1" y1="1229.2" x2="1843.3" y2="1261.0" stroke="#4f4c48" stroke-width="1.5"/><line x1="1809.4" y1="1237.1" x2="1831.9" y2="1277.0" stroke="#4f4c48" stroke-width="1.5"/><line x1="1802.6" y1="1243.0" x2="1818.2" y2="1289.0" stroke="#4f4c48" stroke-width="1.5"/><line x1="1795.0" y1="1246.7" x2="1803.0" y2="1296.5" stroke="#4f4c48" stroke-width="1.5"/><line x1="1787.0" y1="1248.0" x2="1787.0" y2="1299.0" stroke="#4f4c48" stroke-width="1.5"/><line x1="1779.0" y1="1246.7" x2="1771.0" y2="1296.5" stroke="#4f4c48" stroke-width="1.5"/><line x1="1771.4" y1="1243.0" x2="1755.8" y2="1289.0" stroke="#4f4c48" stroke-width="1.5"/><line x1="1764.6" y1="1237.1" x2="1742.1" y2="1277.0" stroke="#4f4c48" stroke-width="1.5"/><line x1="1758.9" y1="1229.2" x2="1730.7" y2="1261.0" stroke="#4f4c48" stroke-width="1.5"/><line x1="1754.6" y1="1219.7" x2="1722.1" y2="1241.8" stroke="#4f4c48" stroke-width="1.5"/><line x1="1751.9" y1="1209.1" x2="1716.8" y2="1220.5" stroke="#4f4c48" stroke-width="1.5"/><line x1="1751.0" y1="1198.0" x2="1715.0" y2="1198.0" stroke="#4f4c48" stroke-width="1.5"/><line x1="1751.9" y1="1186.9" x2="1716.8" y2="1175.5" stroke="#4f4c48" stroke-width="1.5"/><line x1="1754.6" y1="1176.3" x2="1722.1" y2="1154.2" stroke="#4f4c48" stroke-width="1.5"/><line x1="1758.9" y1="1166.8" x2="1730.7" y2="1135.0" stroke="#4f4c48" stroke-width="1.5"/><line x1="1764.6" y1="1158.9" x2="1742.1" y2="1119.0" stroke="#4f4c48" stroke-width="1.5"/><line x1="1771.4" y1="1153.0" x2="1755.8" y2="1107.0" stroke="#4f4c48" stroke-width="1.5"/><line x1="1779.0" y1="1149.3" x2="1771.0" y2="1099.5" stroke="#4f4c48" stroke-width="1.5"/><line x1="1787.0" y1="1148.0" x2="1787.0" y2="1097.0" stroke="#4f4c48" stroke-width="1.5"/><line x1="1795.0" y1="1149.3" x2="1803.0" y2="1099.5" stroke="#4f4c48" stroke-width="1.5"/><line x1="1802.6" y1="1153.0" x2="1818.2" y2="1107.0" stroke="#4f4c48" stroke-width="1.5"/><line x1="1809.4" y1="1158.9" x2="1831.9" y2="1119.0" stroke="#4f4c48" stroke-width="1.5"/><line x1="1815.1" y1="1166.8" x2="1843.3" y2="1135.0" stroke="#4f4c48" stroke-width="1.5"/><line x1="1819.4" y1="1176.3" x2="1851.9" y2="1154.2" stroke="#4f4c48" stroke-width="1.5"/><line x1="1822.1" y1="1186.9" x2="1857.2" y2="1175.5" stroke="#4f4c48" stroke-width="1.5"/><ellipse cx="1787" cy="1198" rx="44.4" ry="61.8" fill="none" stroke="#4f4c48" stroke-width="1.3"/><ellipse cx="1787" cy="1198" rx="53.3" ry="74.2" fill="none" stroke="#4f4c48" stroke-width="1.3"/><ellipse cx="1787" cy="1198" rx="62.2" ry="86.5" fill="none" stroke="#4f4c48" stroke-width="1.3"/><ellipse cx="1787" cy="1198" rx="70.3" ry="97.8" fill="none" stroke="#4f4c48" stroke-width="1.3"/>
<ellipse cx="1763" cy="1198" rx="37" ry="52" fill="#343232"/>
<line x1="1775.0" y1="1198.0" x2="1796.0" y2="1198.0" stroke="#222" stroke-width="1.1"/><line x1="1774.4" y1="1203.3" x2="1794.4" y2="1212.5" stroke="#222" stroke-width="1.1"/><line x1="1772.7" y1="1208.0" x2="1789.7" y2="1225.6" stroke="#222" stroke-width="1.1"/><line x1="1770.1" y1="1211.8" x2="1782.4" y2="1236.0" stroke="#222" stroke-width="1.1"/><line x1="1766.7" y1="1214.2" x2="1773.2" y2="1242.7" stroke="#222" stroke-width="1.1"/><line x1="1763.0" y1="1215.0" x2="1763.0" y2="1245.0" stroke="#222" stroke-width="1.1"/><line x1="1759.3" y1="1214.2" x2="1752.8" y2="1242.7" stroke="#222" stroke-width="1.1"/><line x1="1755.9" y1="1211.8" x2="1743.6" y2="1236.0" stroke="#222" stroke-width="1.1"/><line x1="1753.3" y1="1208.0" x2="1736.3" y2="1225.6" stroke="#222" stroke-width="1.1"/><line x1="1751.6" y1="1203.3" x2="1731.6" y2="1212.5" stroke="#222" stroke-width="1.1"/><line x1="1751.0" y1="1198.0" x2="1730.0" y2="1198.0" stroke="#222" stroke-width="1.1"/><line x1="1751.6" y1="1192.7" x2="1731.6" y2="1183.5" stroke="#222" stroke-width="1.1"/><line x1="1753.3" y1="1188.0" x2="1736.3" y2="1170.4" stroke="#222" stroke-width="1.1"/><line x1="1755.9" y1="1184.2" x2="1743.6" y2="1160.0" stroke="#222" stroke-width="1.1"/><line x1="1759.3" y1="1181.8" x2="1752.8" y2="1153.3" stroke="#222" stroke-width="1.1"/><line x1="1763.0" y1="1181.0" x2="1763.0" y2="1151.0" stroke="#222" stroke-width="1.1"/><line x1="1766.7" y1="1181.8" x2="1773.2" y2="1153.3" stroke="#222" stroke-width="1.1"/><line x1="1770.1" y1="1184.2" x2="1782.4" y2="1160.0" stroke="#222" stroke-width="1.1"/><line x1="1772.7" y1="1188.0" x2="1789.7" y2="1170.4" stroke="#222" stroke-width="1.1"/><line x1="1774.4" y1="1192.7" x2="1794.4" y2="1183.5" stroke="#222" stroke-width="1.1"/>
<path d="M1768,1062 L1792,1062 L1792,1150 L1782,1160 L1768,1150 Z" fill="#2b2a28"/>
<circle cx="1790" cy="1213" r="5" fill="#4a4846"/>
<path d="M1574.4,981.5 C1585,973 1592,968 1598.3,964.3 C1615,955 1625,950 1636.6,945.1 C1660,935 1675,930 1694,924 C1715,918 1735,912 1751.5,908.7 C1770,904 1790,899.5 1809,896.3 C1830,893 1850,889.5 1866.4,887.7 L1895,883.8 Q1903,884 1906,887 L1913.3,899 L1914.3,979.6 L1905,1031.3 L1606,1060 L1575.3,1033.2 Z" fill="#fbf5ec"/>
<path d="M1576,1020 L1608,1025.5 L1891,987 L1914.3,979.6 L1905,1031.3 L1606,1060 L1575.3,1033.2 Z" fill="#f6f3ee"/>
<path d="M1608,1025.5 L1891,987" stroke="#e6e1d8" stroke-width="1.2" fill="none"/>
<path d="M1906,887 Q1915,890 1920,900 L1928,985 L1914.3,979.6 L1913.3,899 Z" fill="#eeedeb"/>
<path d="M1853,983 L1876,980 M1853,986 L1876,983" stroke="#bdb7ad" stroke-width="1"/>
<rect x="1680" y="1085" width="30" height="232" rx="6" fill="#ffffff" opacity="0.55" filter="url(#glow)"/>
<rect x="1877" y="1073" width="30" height="290" rx="6" fill="#ffffff" opacity="0.55" filter="url(#glow)"/>
<rect x="1688" y="1091" width="14" height="218" fill="#7c55e0"/>
<rect x="1885" y="1080" width="13" height="270" fill="#7c55e0"/>
<rect x="1686" y="1073" width="23" height="18" fill="#e6e0d4"/>
<rect x="1684" y="1309" width="23" height="19" fill="#e6e0d4"/>
<rect x="1882" y="1056" width="17" height="24" fill="#e6e0d4"/>
<rect x="1879" y="1350" width="17" height="22" fill="#e6e0d4"/>
<path d="M1600,1343 L1666,1359 L1926,1453" stroke="#e9e5dd" stroke-width="3" fill="none"/>
<circle cx="1911" cy="1431" r="7.5" fill="#111"/><circle cx="1602" cy="1326" r="4.5" fill="#111"/>
<polygon points="1597,1344 1625,1338 1634,1352 1606,1362" fill="#ece8e0"/>
<polygon points="1842,1445 1878,1432 1902,1452 1866,1467" fill="#ece8e0"/>
<rect x="1668" y="1344.3" width="198" height="49" rx="13" fill="#e0a060" stroke="#fff" stroke-width="5"/><text x="1720" y="1378.3" font-size="25" fill="#1a1a1a" text-anchor="start" textLength="95" lengthAdjust="spacingAndGlyphs" >UV Light</text>
<rect x="1363" y="1170" width="8" height="11" fill="#d9d0ca"/><rect x="1537" y="1204" width="10" height="13" fill="#d9d0ca"/>
<polygon points="922.0,1166.0 990.0,1166.0 989.0,1158.5 1079.0,1174.7 1041.6,1192.0 1029.0,1183.4 960.0,1186.0 935.0,1178.0" fill="#97e0d0" />
<polygon points="924.0,1170.0 975.0,1170.0 972.0,1164.0 1010.0,1172.0 995.0,1182.0 988.0,1179.0 940.0,1180.0" fill="#b6ece6" />
<polygon points="1030.0,1171.0 1060.0,1172.0 1057.0,1168.0 1073.0,1175.0 1060.0,1181.0 1040.0,1180.0" fill="#d4f3ef" />
<polygon points="1139.4,1227.3 1205.4,1227.3 1202.8,1217.0 1298.5,1235.0 1257.1,1253.2 1249.4,1244.0 1164.0,1242.8 1140.7,1233.8" fill="#8fdcf2" />
<polygon points="1141.0,1232.0 1190.0,1232.0 1188.0,1228.0 1250.0,1238.0 1232.0,1246.0 1160.0,1242.0" fill="#bff0f6" />
<polygon points="1363.2,1183.3 1430.5,1183.3 1426.6,1175.6 1522.3,1192.4 1480.9,1210.5 1470.6,1202.7 1389.0,1201.4 1364.5,1192.4" fill="#8fdcf2" />
<polygon points="1366.0,1188.0 1420.0,1188.0 1418.0,1184.0 1500.0,1194.0 1478.0,1202.0 1400.0,1200.0" fill="#bff0f6" />
<polygon points="1570.0,1206.0 1625.0,1207.0 1656.0,1194.0 1790.0,1221.0 1732.0,1250.0 1720.0,1238.0 1664.0,1239.0 1600.0,1239.0 1574.0,1223.0" fill="#ffffff" opacity="0.9" filter="url(#glow2)"/>
<polygon points="1573.0,1209.0 1625.0,1210.0 1656.0,1197.0 1784.0,1221.0 1732.0,1246.0 1720.0,1234.0 1664.0,1235.0 1600.0,1235.0 1577.0,1220.0" fill="#8fdcf2" />
<polygon points="1577.0,1214.0 1640.0,1214.0 1636.0,1208.0 1700.0,1222.0 1690.0,1232.0 1600.0,1232.0" fill="#bff0f6" />
<polygon points="1660.0,1212.0 1700.0,1213.0 1697.0,1209.0 1760.0,1222.0 1740.0,1230.0 1680.0,1226.0" fill="#b4ecf5" />
<polygon points="1565.8,683.2 1670.9,678.8 1647.7,697.7 1666.5,711.4 1691.0,733.0 1706.0,760.0 1709.3,800.0 1707.0,834.0 1694.8,893.3 1689.7,834.0 1682.0,805.0 1669.4,790.4 1636.0,754.2 1599.9,729.6 1573.8,747.0" fill="#88dcf2" />
<polygon points="1628.1,714.3 1697.7,710.0 1684.6,722.3 1710.0,747.0 1720.1,776.0 1723.0,805.0 1719.0,830.0 1713.6,852.8 1710.0,805.0 1698.4,776.0 1676.7,754.2 1637.5,752.8 1634.6,754.2" fill="#bdf0f5" />
<polygon points="1640.0,752.0 1655.0,746.0 1680.0,760.0 1700.0,785.0 1708.0,810.0 1709.0,834.0 1704.0,860.0 1696.0,890.0 1697.0,840.0 1688.0,805.0 1670.0,782.0" fill="#88dcf2" />
<polygon points="1531.7,756.4 1621.6,751.3 1602.8,766.5 1618.7,777.4 1640.4,797.7 1650.0,820.0 1653.5,848.4 1648.0,890.0 1641.2,923.8 1636.0,863.0 1623.0,834.0 1605.0,815.0 1591.2,810.7 1561.4,792.6 1540.4,806.4" fill="#88dcf2" />
<polygon points="1586.0,778.8 1645.5,776.7 1633.9,787.5 1655.0,805.0 1663.0,825.0 1666.5,848.4 1665.0,870.0 1659.3,889.0 1655.0,848.4 1648.0,830.0 1640.4,819.4 1620.0,808.0 1594.0,810.7" fill="#bdf0f5" />
<polygon points="1594.0,811.0 1608.0,806.0 1628.0,818.0 1642.0,835.0 1650.0,855.0 1652.0,880.0 1645.0,920.0 1640.0,870.0 1630.0,842.0 1612.0,822.0" fill="#88dcf2" />
<circle cx="1673" cy="814.3" r="25.3" fill="#fff" stroke="#8fdcf2" stroke-width="2.8"/><rect x="1658.5" y="811.3" width="29" height="6" fill="#8fdcf2"/>
<circle cx="1785.5" cy="837" r="20.3" fill="#fff" stroke="#8fdcf2" stroke-width="2.6"/><rect x="1775.0" y="835.25" width="21" height="3.5" fill="#8fdcf2"/>
<circle cx="1594" cy="907" r="12" fill="#fff" stroke="#8fdcf2" stroke-width="2"/><rect x="1588.0" y="905.75" width="12" height="2.5" fill="#8fdcf2"/>
<circle cx="572.3" cy="1152.4" r="5.4" fill="#8c8c8c"/><path d="M576.8,1152.4 Q582.5,1149.8 586.3,1155.2" stroke="#8c8c8c" stroke-width="1.4" fill="none"/><path d="M576.4,1154.4 Q582.6,1154.5 583.7,1161.0" stroke="#8c8c8c" stroke-width="1.4" fill="none"/><path d="M575.1,1155.9 Q580.7,1158.7 578.8,1165.1" stroke="#8c8c8c" stroke-width="1.4" fill="none"/><path d="M573.3,1156.8 Q577.1,1161.7 572.6,1166.6" stroke="#8c8c8c" stroke-width="1.4" fill="none"/><path d="M571.3,1156.8 Q572.6,1162.9 566.4,1165.4" stroke="#8c8c8c" stroke-width="1.4" fill="none"/><path d="M569.5,1155.9 Q568.0,1162.0 561.4,1161.6" stroke="#8c8c8c" stroke-width="1.4" fill="none"/><path d="M568.2,1154.4 Q564.3,1159.2 558.5,1155.9" stroke="#8c8c8c" stroke-width="1.4" fill="none"/><path d="M567.8,1152.4 Q562.1,1155.0 558.3,1149.6" stroke="#8c8c8c" stroke-width="1.4" fill="none"/><path d="M568.2,1150.4 Q562.0,1150.3 560.9,1143.8" stroke="#8c8c8c" stroke-width="1.4" fill="none"/><path d="M569.5,1148.9 Q563.9,1146.1 565.8,1139.7" stroke="#8c8c8c" stroke-width="1.4" fill="none"/><path d="M571.3,1148.0 Q567.5,1143.1 572.0,1138.2" stroke="#8c8c8c" stroke-width="1.4" fill="none"/><path d="M573.3,1148.0 Q572.0,1141.9 578.2,1139.4" stroke="#8c8c8c" stroke-width="1.4" fill="none"/><path d="M575.1,1148.9 Q576.6,1142.8 583.2,1143.2" stroke="#8c8c8c" stroke-width="1.4" fill="none"/><path d="M576.4,1150.4 Q580.3,1145.6 586.1,1148.9" stroke="#8c8c8c" stroke-width="1.4" fill="none"/>
<circle cx="701.2" cy="1337.4" r="5.4" fill="#8c8c8c"/><path d="M705.7,1337.4 Q711.4,1334.8 715.2,1340.2" stroke="#8c8c8c" stroke-width="1.4" fill="none"/><path d="M705.3,1339.4 Q711.5,1339.5 712.6,1346.0" stroke="#8c8c8c" stroke-width="1.4" fill="none"/><path d="M704.0,1340.9 Q709.6,1343.7 707.7,1350.1" stroke="#8c8c8c" stroke-width="1.4" fill="none"/><path d="M702.2,1341.8 Q706.0,1346.7 701.5,1351.6" stroke="#8c8c8c" stroke-width="1.4" fill="none"/><path d="M700.2,1341.8 Q701.5,1347.9 695.3,1350.4" stroke="#8c8c8c" stroke-width="1.4" fill="none"/><path d="M698.4,1340.9 Q696.9,1347.0 690.3,1346.6" stroke="#8c8c8c" stroke-width="1.4" fill="none"/><path d="M697.1,1339.4 Q693.2,1344.2 687.4,1340.9" stroke="#8c8c8c" stroke-width="1.4" fill="none"/><path d="M696.7,1337.4 Q691.0,1340.0 687.2,1334.6" stroke="#8c8c8c" stroke-width="1.4" fill="none"/><path d="M697.1,1335.4 Q690.9,1335.3 689.8,1328.8" stroke="#8c8c8c" stroke-width="1.4" fill="none"/><path d="M698.4,1333.9 Q692.8,1331.1 694.7,1324.7" stroke="#8c8c8c" stroke-width="1.4" fill="none"/><path d="M700.2,1333.0 Q696.4,1328.1 700.9,1323.2" stroke="#8c8c8c" stroke-width="1.4" fill="none"/><path d="M702.2,1333.0 Q700.9,1326.9 707.1,1324.4" stroke="#8c8c8c" stroke-width="1.4" fill="none"/><path d="M704.0,1333.9 Q705.5,1327.8 712.1,1328.2" stroke="#8c8c8c" stroke-width="1.4" fill="none"/><path d="M705.3,1335.4 Q709.2,1330.6 715.0,1333.9" stroke="#8c8c8c" stroke-width="1.4" fill="none"/>
<circle cx="965.3" cy="1335.7" r="5.4" fill="#8c8c8c"/><path d="M969.8,1335.7 Q975.5,1333.1 979.3,1338.5" stroke="#8c8c8c" stroke-width="1.4" fill="none"/><path d="M969.4,1337.7 Q975.6,1337.8 976.7,1344.3" stroke="#8c8c8c" stroke-width="1.4" fill="none"/><path d="M968.1,1339.2 Q973.7,1342.0 971.8,1348.4" stroke="#8c8c8c" stroke-width="1.4" fill="none"/><path d="M966.3,1340.1 Q970.1,1345.0 965.6,1349.9" stroke="#8c8c8c" stroke-width="1.4" fill="none"/><path d="M964.3,1340.1 Q965.6,1346.2 959.4,1348.7" stroke="#8c8c8c" stroke-width="1.4" fill="none"/><path d="M962.5,1339.2 Q961.0,1345.3 954.4,1344.9" stroke="#8c8c8c" stroke-width="1.4" fill="none"/><path d="M961.2,1337.7 Q957.3,1342.5 951.5,1339.2" stroke="#8c8c8c" stroke-width="1.4" fill="none"/><path d="M960.8,1335.7 Q955.1,1338.3 951.3,1332.9" stroke="#8c8c8c" stroke-width="1.4" fill="none"/><path d="M961.2,1333.7 Q955.0,1333.6 953.9,1327.1" stroke="#8c8c8c" stroke-width="1.4" fill="none"/><path d="M962.5,1332.2 Q956.9,1329.4 958.8,1323.0" stroke="#8c8c8c" stroke-width="1.4" fill="none"/><path d="M964.3,1331.3 Q960.5,1326.4 965.0,1321.5" stroke="#8c8c8c" stroke-width="1.4" fill="none"/><path d="M966.3,1331.3 Q965.0,1325.2 971.2,1322.7" stroke="#8c8c8c" stroke-width="1.4" fill="none"/><path d="M968.1,1332.2 Q969.6,1326.1 976.2,1326.5" stroke="#8c8c8c" stroke-width="1.4" fill="none"/><path d="M969.4,1333.7 Q973.3,1328.9 979.1,1332.2" stroke="#8c8c8c" stroke-width="1.4" fill="none"/>
<circle cx="952.6" cy="1130.5" r="5.4" fill="#8c8c8c"/><path d="M957.1,1130.5 Q962.8,1127.9 966.6,1133.3" stroke="#8c8c8c" stroke-width="1.4" fill="none"/><path d="M956.7,1132.5 Q962.9,1132.6 964.0,1139.1" stroke="#8c8c8c" stroke-width="1.4" fill="none"/><path d="M955.4,1134.0 Q961.0,1136.8 959.1,1143.2" stroke="#8c8c8c" stroke-width="1.4" fill="none"/><path d="M953.6,1134.9 Q957.4,1139.8 952.9,1144.7" stroke="#8c8c8c" stroke-width="1.4" fill="none"/><path d="M951.6,1134.9 Q952.9,1141.0 946.7,1143.5" stroke="#8c8c8c" stroke-width="1.4" fill="none"/><path d="M949.8,1134.0 Q948.3,1140.1 941.7,1139.7" stroke="#8c8c8c" stroke-width="1.4" fill="none"/><path d="M948.5,1132.5 Q944.6,1137.3 938.8,1134.0" stroke="#8c8c8c" stroke-width="1.4" fill="none"/><path d="M948.1,1130.5 Q942.4,1133.1 938.6,1127.7" stroke="#8c8c8c" stroke-width="1.4" fill="none"/><path d="M948.5,1128.5 Q942.3,1128.4 941.2,1121.9" stroke="#8c8c8c" stroke-width="1.4" fill="none"/><path d="M949.8,1127.0 Q944.2,1124.2 946.1,1117.8" stroke="#8c8c8c" stroke-width="1.4" fill="none"/><path d="M951.6,1126.1 Q947.8,1121.2 952.3,1116.3" stroke="#8c8c8c" stroke-width="1.4" fill="none"/><path d="M953.6,1126.1 Q952.3,1120.0 958.5,1117.5" stroke="#8c8c8c" stroke-width="1.4" fill="none"/><path d="M955.4,1127.0 Q956.9,1120.9 963.5,1121.3" stroke="#8c8c8c" stroke-width="1.4" fill="none"/><path d="M956.7,1128.5 Q960.6,1123.7 966.4,1127.0" stroke="#8c8c8c" stroke-width="1.4" fill="none"/>
<line x1="646.1" y1="1124.4" x2="647.3" y2="1127.1" stroke="#8fb1c2" stroke-width="1.2"/><line x1="628.7" y1="1103.6" x2="631.6" y2="1104.2" stroke="#8fb1c2" stroke-width="1.2"/><line x1="672.1" y1="1113.6" x2="674.1" y2="1115.7" stroke="#8fb1c2" stroke-width="1.2"/><line x1="649.4" y1="1144.5" x2="649.6" y2="1147.5" stroke="#8fb1c2" stroke-width="1.2"/><line x1="653.2" y1="1102.4" x2="651.9" y2="1105.1" stroke="#8fb1c2" stroke-width="1.2"/><line x1="656.7" y1="1123.4" x2="653.9" y2="1124.6" stroke="#8fb1c2" stroke-width="1.2"/><line x1="621.3" y1="1109.6" x2="619.7" y2="1112.2" stroke="#8fb1c2" stroke-width="1.2"/><line x1="667.0" y1="1118.5" x2="666.2" y2="1121.4" stroke="#8fb1c2" stroke-width="1.2"/><line x1="643.6" y1="1114.4" x2="640.8" y2="1115.6" stroke="#8fb1c2" stroke-width="1.2"/><line x1="622.1" y1="1114.7" x2="619.3" y2="1115.8" stroke="#8fb1c2" stroke-width="1.2"/><line x1="637.4" y1="1090.3" x2="638.4" y2="1093.1" stroke="#8fb1c2" stroke-width="1.2"/><line x1="649.6" y1="1101.8" x2="646.7" y2="1102.4" stroke="#8fb1c2" stroke-width="1.2"/><line x1="649.4" y1="1108.9" x2="652.2" y2="1110.2" stroke="#8fb1c2" stroke-width="1.2"/><line x1="652.4" y1="1137.1" x2="653.0" y2="1140.1" stroke="#8fb1c2" stroke-width="1.2"/><line x1="636.2" y1="1106.0" x2="636.1" y2="1109.0" stroke="#8fb1c2" stroke-width="1.2"/><line x1="634.6" y1="1118.0" x2="633.8" y2="1120.9" stroke="#8fb1c2" stroke-width="1.2"/><line x1="617.8" y1="1101.2" x2="616.2" y2="1103.7" stroke="#8fb1c2" stroke-width="1.2"/><line x1="670.3" y1="1103.6" x2="667.3" y2="1103.7" stroke="#8fb1c2" stroke-width="1.2"/><line x1="640.6" y1="1106.8" x2="637.9" y2="1108.1" stroke="#8fb1c2" stroke-width="1.2"/><line x1="675.2" y1="1107.3" x2="674.5" y2="1110.2" stroke="#8fb1c2" stroke-width="1.2"/><line x1="642.5" y1="1105.4" x2="639.9" y2="1106.9" stroke="#8fb1c2" stroke-width="1.2"/><line x1="634.1" y1="1108.4" x2="637.1" y2="1109.0" stroke="#8fb1c2" stroke-width="1.2"/><line x1="671.2" y1="1088.2" x2="674.1" y2="1089.0" stroke="#8fb1c2" stroke-width="1.2"/><line x1="649.3" y1="1102.3" x2="652.0" y2="1103.7" stroke="#8fb1c2" stroke-width="1.2"/><line x1="638.0" y1="1128.3" x2="635.2" y2="1129.5" stroke="#8fb1c2" stroke-width="1.2"/><line x1="663.8" y1="1115.7" x2="666.8" y2="1116.2" stroke="#8fb1c2" stroke-width="1.2"/><line x1="642.2" y1="1103.3" x2="639.4" y2="1104.4" stroke="#8fb1c2" stroke-width="1.2"/><line x1="661.7" y1="1110.6" x2="658.7" y2="1110.6" stroke="#8fb1c2" stroke-width="1.2"/><line x1="642.6" y1="1115.7" x2="641.7" y2="1118.5" stroke="#8fb1c2" stroke-width="1.2"/><line x1="654.1" y1="1113.3" x2="654.9" y2="1116.2" stroke="#8fb1c2" stroke-width="1.2"/><line x1="638.2" y1="1108.3" x2="641.2" y2="1108.7" stroke="#8fb1c2" stroke-width="1.2"/><line x1="653.1" y1="1105.7" x2="650.2" y2="1106.0" stroke="#8fb1c2" stroke-width="1.2"/><line x1="655.9" y1="1106.2" x2="656.2" y2="1109.1" stroke="#8fb1c2" stroke-width="1.2"/><line x1="624.2" y1="1110.2" x2="623.3" y2="1113.1" stroke="#8fb1c2" stroke-width="1.2"/><line x1="626.0" y1="1107.0" x2="623.1" y2="1107.5" stroke="#8fb1c2" stroke-width="1.2"/><line x1="629.4" y1="1111.5" x2="627.5" y2="1113.8" stroke="#8fb1c2" stroke-width="1.2"/><line x1="645.6" y1="1120.4" x2="642.7" y2="1120.6" stroke="#8fb1c2" stroke-width="1.2"/><line x1="626.7" y1="1110.3" x2="629.7" y2="1110.5" stroke="#8fb1c2" stroke-width="1.2"/><line x1="628.4" y1="1118.6" x2="631.4" y2="1118.8" stroke="#8fb1c2" stroke-width="1.2"/><line x1="629.5" y1="1102.7" x2="632.4" y2="1103.3" stroke="#8fb1c2" stroke-width="1.2"/><line x1="633.5" y1="1104.0" x2="631.9" y2="1106.6" stroke="#8fb1c2" stroke-width="1.2"/><line x1="631.1" y1="1124.4" x2="629.1" y2="1126.6" stroke="#8fb1c2" stroke-width="1.2"/><line x1="649.7" y1="1112.5" x2="648.2" y2="1115.0" stroke="#8fb1c2" stroke-width="1.2"/><line x1="655.4" y1="1110.3" x2="655.8" y2="1113.3" stroke="#8fb1c2" stroke-width="1.2"/><line x1="634.1" y1="1107.2" x2="635.4" y2="1109.9" stroke="#8fb1c2" stroke-width="1.2"/><line x1="639.4" y1="1120.8" x2="638.5" y2="1123.6" stroke="#8fb1c2" stroke-width="1.2"/><line x1="640.3" y1="1121.2" x2="638.1" y2="1123.1" stroke="#8fb1c2" stroke-width="1.2"/><line x1="663.1" y1="1114.2" x2="661.1" y2="1116.4" stroke="#8fb1c2" stroke-width="1.2"/><line x1="640.9" y1="1118.5" x2="638.5" y2="1120.3" stroke="#8fb1c2" stroke-width="1.2"/><line x1="645.4" y1="1118.4" x2="646.0" y2="1121.3" stroke="#8fb1c2" stroke-width="1.2"/><line x1="642.6" y1="1107.7" x2="644.2" y2="1110.2" stroke="#8fb1c2" stroke-width="1.2"/><line x1="631.0" y1="1128.2" x2="631.6" y2="1131.2" stroke="#8fb1c2" stroke-width="1.2"/><line x1="650.1" y1="1107.2" x2="651.6" y2="1109.9" stroke="#8fb1c2" stroke-width="1.2"/><line x1="627.1" y1="1095.3" x2="627.6" y2="1098.3" stroke="#8fb1c2" stroke-width="1.2"/><line x1="645.8" y1="1117.0" x2="645.6" y2="1120.0" stroke="#8fb1c2" stroke-width="1.2"/><line x1="654.2" y1="1128.7" x2="651.6" y2="1130.2" stroke="#8fb1c2" stroke-width="1.2"/><line x1="649.4" y1="1119.3" x2="646.9" y2="1121.0" stroke="#8fb1c2" stroke-width="1.2"/><line x1="628.3" y1="1098.0" x2="629.7" y2="1100.7" stroke="#8fb1c2" stroke-width="1.2"/><line x1="652.9" y1="1118.0" x2="650.5" y2="1119.8" stroke="#8fb1c2" stroke-width="1.2"/><line x1="642.9" y1="1121.0" x2="643.7" y2="1123.9" stroke="#8fb1c2" stroke-width="1.2"/><line x1="631.8" y1="1116.9" x2="628.9" y2="1117.6" stroke="#8fb1c2" stroke-width="1.2"/><line x1="645.5" y1="1112.8" x2="642.5" y2="1113.3" stroke="#8fb1c2" stroke-width="1.2"/><line x1="675.6" y1="1092.0" x2="676.2" y2="1095.0" stroke="#8fb1c2" stroke-width="1.2"/><line x1="676.1" y1="1105.0" x2="678.4" y2="1106.9" stroke="#8fb1c2" stroke-width="1.2"/><line x1="643.9" y1="1093.2" x2="642.5" y2="1095.8" stroke="#8fb1c2" stroke-width="1.2"/><line x1="632.9" y1="1111.0" x2="634.3" y2="1113.7" stroke="#8fb1c2" stroke-width="1.2"/><line x1="645.5" y1="1115.7" x2="644.6" y2="1118.6" stroke="#8fb1c2" stroke-width="1.2"/><line x1="638.7" y1="1129.6" x2="641.6" y2="1130.0" stroke="#8fb1c2" stroke-width="1.2"/><line x1="662.9" y1="1103.3" x2="660.0" y2="1104.0" stroke="#8fb1c2" stroke-width="1.2"/><line x1="669.3" y1="1099.2" x2="668.6" y2="1102.1" stroke="#8fb1c2" stroke-width="1.2"/><line x1="668.4" y1="1113.4" x2="671.0" y2="1114.9" stroke="#8fb1c2" stroke-width="1.2"/><line x1="638.2" y1="1125.9" x2="637.9" y2="1128.9" stroke="#8fb1c2" stroke-width="1.2"/><line x1="615.5" y1="1124.1" x2="614.5" y2="1126.9" stroke="#8fb1c2" stroke-width="1.2"/><line x1="638.7" y1="1118.3" x2="636.0" y2="1119.6" stroke="#8fb1c2" stroke-width="1.2"/><line x1="619.8" y1="1114.5" x2="621.2" y2="1117.1" stroke="#8fb1c2" stroke-width="1.2"/><line x1="650.5" y1="1123.6" x2="648.0" y2="1125.2" stroke="#8fb1c2" stroke-width="1.2"/><line x1="656.8" y1="1127.4" x2="653.9" y2="1128.2" stroke="#8fb1c2" stroke-width="1.2"/><line x1="654.0" y1="1094.7" x2="657.0" y2="1094.8" stroke="#8fb1c2" stroke-width="1.2"/><line x1="624.9" y1="1097.7" x2="627.8" y2="1098.2" stroke="#8fb1c2" stroke-width="1.2"/><line x1="643.2" y1="1119.8" x2="642.9" y2="1122.7" stroke="#8fb1c2" stroke-width="1.2"/><line x1="630.3" y1="1117.2" x2="628.0" y2="1119.2" stroke="#8fb1c2" stroke-width="1.2"/><line x1="649.5" y1="1112.0" x2="652.3" y2="1113.2" stroke="#8fb1c2" stroke-width="1.2"/><line x1="648.5" y1="1114.6" x2="645.6" y2="1114.9" stroke="#8fb1c2" stroke-width="1.2"/><line x1="648.4" y1="1108.7" x2="648.4" y2="1111.7" stroke="#8fb1c2" stroke-width="1.2"/><line x1="639.7" y1="1119.9" x2="641.0" y2="1122.6" stroke="#8fb1c2" stroke-width="1.2"/><line x1="633.2" y1="1101.5" x2="634.4" y2="1104.2" stroke="#8fb1c2" stroke-width="1.2"/><line x1="649.4" y1="1120.2" x2="652.1" y2="1121.4" stroke="#8fb1c2" stroke-width="1.2"/><line x1="623.2" y1="1106.6" x2="624.3" y2="1109.4" stroke="#8fb1c2" stroke-width="1.2"/><line x1="652.6" y1="1115.0" x2="653.8" y2="1117.8" stroke="#8fb1c2" stroke-width="1.2"/><line x1="624.8" y1="1101.4" x2="625.9" y2="1104.2" stroke="#8fb1c2" stroke-width="1.2"/>
<line x1="552.8" y1="1244.1" x2="553.4" y2="1247.0" stroke="#8fb1c2" stroke-width="1.2"/><line x1="539.2" y1="1263.6" x2="537.4" y2="1266.0" stroke="#8fb1c2" stroke-width="1.2"/><line x1="533.4" y1="1262.6" x2="533.8" y2="1265.6" stroke="#8fb1c2" stroke-width="1.2"/><line x1="548.4" y1="1267.1" x2="546.7" y2="1269.6" stroke="#8fb1c2" stroke-width="1.2"/><line x1="558.2" y1="1260.1" x2="558.9" y2="1263.0" stroke="#8fb1c2" stroke-width="1.2"/><line x1="566.4" y1="1241.5" x2="567.6" y2="1244.3" stroke="#8fb1c2" stroke-width="1.2"/><line x1="563.3" y1="1246.5" x2="565.3" y2="1248.7" stroke="#8fb1c2" stroke-width="1.2"/><line x1="542.6" y1="1257.0" x2="540.1" y2="1258.7" stroke="#8fb1c2" stroke-width="1.2"/><line x1="536.2" y1="1240.0" x2="533.8" y2="1241.8" stroke="#8fb1c2" stroke-width="1.2"/><line x1="539.3" y1="1243.3" x2="538.7" y2="1246.2" stroke="#8fb1c2" stroke-width="1.2"/><line x1="559.5" y1="1263.2" x2="562.5" y2="1263.3" stroke="#8fb1c2" stroke-width="1.2"/><line x1="559.6" y1="1268.2" x2="562.5" y2="1268.6" stroke="#8fb1c2" stroke-width="1.2"/><line x1="552.1" y1="1258.2" x2="549.3" y2="1259.3" stroke="#8fb1c2" stroke-width="1.2"/><line x1="549.0" y1="1257.8" x2="546.4" y2="1259.2" stroke="#8fb1c2" stroke-width="1.2"/><line x1="563.1" y1="1268.0" x2="561.5" y2="1270.5" stroke="#8fb1c2" stroke-width="1.2"/><line x1="561.7" y1="1237.0" x2="561.0" y2="1239.9" stroke="#8fb1c2" stroke-width="1.2"/><line x1="548.9" y1="1253.7" x2="546.7" y2="1255.7" stroke="#8fb1c2" stroke-width="1.2"/><line x1="530.9" y1="1255.0" x2="533.8" y2="1256.0" stroke="#8fb1c2" stroke-width="1.2"/><line x1="547.8" y1="1235.0" x2="550.8" y2="1235.6" stroke="#8fb1c2" stroke-width="1.2"/><line x1="541.7" y1="1266.4" x2="539.2" y2="1267.9" stroke="#8fb1c2" stroke-width="1.2"/><line x1="548.3" y1="1261.7" x2="550.5" y2="1263.8" stroke="#8fb1c2" stroke-width="1.2"/><line x1="534.5" y1="1246.0" x2="535.5" y2="1248.8" stroke="#8fb1c2" stroke-width="1.2"/><line x1="540.7" y1="1262.7" x2="542.1" y2="1265.4" stroke="#8fb1c2" stroke-width="1.2"/><line x1="544.1" y1="1257.8" x2="544.1" y2="1260.8" stroke="#8fb1c2" stroke-width="1.2"/><line x1="559.0" y1="1254.4" x2="556.9" y2="1256.6" stroke="#8fb1c2" stroke-width="1.2"/><line x1="556.8" y1="1267.7" x2="554.7" y2="1269.8" stroke="#8fb1c2" stroke-width="1.2"/><line x1="542.0" y1="1246.4" x2="542.2" y2="1249.4" stroke="#8fb1c2" stroke-width="1.2"/><line x1="533.6" y1="1241.0" x2="536.3" y2="1242.3" stroke="#8fb1c2" stroke-width="1.2"/><line x1="562.8" y1="1264.5" x2="559.9" y2="1265.2" stroke="#8fb1c2" stroke-width="1.2"/><line x1="536.4" y1="1254.9" x2="534.5" y2="1257.3" stroke="#8fb1c2" stroke-width="1.2"/><line x1="551.3" y1="1262.5" x2="553.8" y2="1264.3" stroke="#8fb1c2" stroke-width="1.2"/><line x1="539.9" y1="1252.0" x2="542.2" y2="1254.0" stroke="#8fb1c2" stroke-width="1.2"/><line x1="538.3" y1="1235.2" x2="540.1" y2="1237.6" stroke="#8fb1c2" stroke-width="1.2"/><line x1="544.9" y1="1247.1" x2="542.2" y2="1248.4" stroke="#8fb1c2" stroke-width="1.2"/><line x1="540.7" y1="1252.4" x2="543.0" y2="1254.3" stroke="#8fb1c2" stroke-width="1.2"/><line x1="560.2" y1="1257.5" x2="561.3" y2="1260.3" stroke="#8fb1c2" stroke-width="1.2"/><line x1="552.8" y1="1263.5" x2="554.4" y2="1266.1" stroke="#8fb1c2" stroke-width="1.2"/><line x1="548.9" y1="1251.0" x2="545.9" y2="1251.1" stroke="#8fb1c2" stroke-width="1.2"/><line x1="533.5" y1="1257.6" x2="533.8" y2="1260.5" stroke="#8fb1c2" stroke-width="1.2"/><line x1="558.2" y1="1241.6" x2="557.6" y2="1244.5" stroke="#8fb1c2" stroke-width="1.2"/><line x1="530.9" y1="1257.7" x2="528.2" y2="1259.0" stroke="#8fb1c2" stroke-width="1.2"/><line x1="533.8" y1="1264.6" x2="530.8" y2="1265.0" stroke="#8fb1c2" stroke-width="1.2"/><line x1="540.4" y1="1257.3" x2="542.6" y2="1259.3" stroke="#8fb1c2" stroke-width="1.2"/><line x1="544.7" y1="1242.8" x2="541.8" y2="1243.2" stroke="#8fb1c2" stroke-width="1.2"/><line x1="552.9" y1="1250.7" x2="555.4" y2="1252.4" stroke="#8fb1c2" stroke-width="1.2"/><line x1="547.6" y1="1261.8" x2="545.8" y2="1264.2" stroke="#8fb1c2" stroke-width="1.2"/><line x1="562.6" y1="1241.0" x2="564.7" y2="1243.2" stroke="#8fb1c2" stroke-width="1.2"/><line x1="554.2" y1="1250.1" x2="554.9" y2="1253.1" stroke="#8fb1c2" stroke-width="1.2"/><line x1="547.4" y1="1252.2" x2="550.3" y2="1253.1" stroke="#8fb1c2" stroke-width="1.2"/><line x1="552.5" y1="1249.5" x2="553.8" y2="1252.2" stroke="#8fb1c2" stroke-width="1.2"/><line x1="533.8" y1="1249.5" x2="536.8" y2="1249.5" stroke="#8fb1c2" stroke-width="1.2"/><line x1="542.1" y1="1264.3" x2="542.3" y2="1267.3" stroke="#8fb1c2" stroke-width="1.2"/><line x1="551.6" y1="1267.6" x2="548.6" y2="1268.0" stroke="#8fb1c2" stroke-width="1.2"/><line x1="537.5" y1="1263.1" x2="540.3" y2="1264.2" stroke="#8fb1c2" stroke-width="1.2"/><line x1="545.5" y1="1269.2" x2="548.3" y2="1270.2" stroke="#8fb1c2" stroke-width="1.2"/><line x1="565.9" y1="1243.2" x2="568.8" y2="1244.1" stroke="#8fb1c2" stroke-width="1.2"/><line x1="557.8" y1="1252.9" x2="555.5" y2="1254.8" stroke="#8fb1c2" stroke-width="1.2"/><line x1="548.4" y1="1248.5" x2="546.8" y2="1251.0" stroke="#8fb1c2" stroke-width="1.2"/><line x1="536.9" y1="1242.6" x2="538.9" y2="1244.8" stroke="#8fb1c2" stroke-width="1.2"/><line x1="548.7" y1="1233.1" x2="547.2" y2="1235.6" stroke="#8fb1c2" stroke-width="1.2"/>
<line x1="995.8" y1="1232.0" x2="995.9" y2="1235.0" stroke="#a9c4cf" stroke-width="1.2"/><line x1="990.7" y1="1244.5" x2="989.1" y2="1247.0" stroke="#a9c4cf" stroke-width="1.2"/><line x1="994.7" y1="1230.7" x2="993.4" y2="1233.4" stroke="#a9c4cf" stroke-width="1.2"/><line x1="996.4" y1="1228.9" x2="993.6" y2="1229.9" stroke="#a9c4cf" stroke-width="1.2"/><line x1="997.9" y1="1229.2" x2="995.0" y2="1229.8" stroke="#a9c4cf" stroke-width="1.2"/><line x1="1007.1" y1="1239.3" x2="1005.2" y2="1241.6" stroke="#a9c4cf" stroke-width="1.2"/><line x1="989.8" y1="1226.4" x2="988.4" y2="1229.1" stroke="#a9c4cf" stroke-width="1.2"/><line x1="992.0" y1="1235.0" x2="994.5" y2="1236.6" stroke="#a9c4cf" stroke-width="1.2"/><line x1="1016.6" y1="1239.0" x2="1014.4" y2="1241.1" stroke="#a9c4cf" stroke-width="1.2"/><line x1="983.9" y1="1229.0" x2="985.2" y2="1231.8" stroke="#a9c4cf" stroke-width="1.2"/><line x1="999.9" y1="1241.8" x2="997.2" y2="1243.0" stroke="#a9c4cf" stroke-width="1.2"/><line x1="1013.4" y1="1235.8" x2="1015.5" y2="1237.9" stroke="#a9c4cf" stroke-width="1.2"/><line x1="1002.2" y1="1224.6" x2="1003.7" y2="1227.2" stroke="#a9c4cf" stroke-width="1.2"/><line x1="989.9" y1="1239.4" x2="987.7" y2="1241.4" stroke="#a9c4cf" stroke-width="1.2"/><line x1="988.4" y1="1246.9" x2="991.2" y2="1248.0" stroke="#a9c4cf" stroke-width="1.2"/><line x1="1000.4" y1="1237.1" x2="1003.2" y2="1238.1" stroke="#a9c4cf" stroke-width="1.2"/><line x1="1004.2" y1="1218.7" x2="1006.7" y2="1220.4" stroke="#a9c4cf" stroke-width="1.2"/><line x1="1005.2" y1="1241.7" x2="1003.1" y2="1243.8" stroke="#a9c4cf" stroke-width="1.2"/><line x1="1008.2" y1="1219.3" x2="1007.4" y2="1222.2" stroke="#a9c4cf" stroke-width="1.2"/><line x1="1007.6" y1="1240.2" x2="1010.1" y2="1241.9" stroke="#a9c4cf" stroke-width="1.2"/><line x1="987.2" y1="1231.0" x2="989.6" y2="1232.8" stroke="#a9c4cf" stroke-width="1.2"/><line x1="1001.0" y1="1248.7" x2="1004.0" y2="1249.0" stroke="#a9c4cf" stroke-width="1.2"/><line x1="1008.5" y1="1215.1" x2="1005.5" y2="1215.6" stroke="#a9c4cf" stroke-width="1.2"/><line x1="990.8" y1="1240.6" x2="990.1" y2="1243.5" stroke="#a9c4cf" stroke-width="1.2"/><line x1="981.2" y1="1214.6" x2="979.5" y2="1217.1" stroke="#a9c4cf" stroke-width="1.2"/><line x1="994.5" y1="1250.0" x2="994.6" y2="1253.0" stroke="#a9c4cf" stroke-width="1.2"/><line x1="987.0" y1="1224.4" x2="990.0" y2="1224.4" stroke="#a9c4cf" stroke-width="1.2"/><line x1="1003.0" y1="1219.9" x2="1003.1" y2="1222.9" stroke="#a9c4cf" stroke-width="1.2"/><line x1="989.1" y1="1231.5" x2="991.6" y2="1233.2" stroke="#a9c4cf" stroke-width="1.2"/><line x1="998.1" y1="1232.5" x2="998.1" y2="1235.5" stroke="#a9c4cf" stroke-width="1.2"/><line x1="993.9" y1="1225.3" x2="993.3" y2="1228.2" stroke="#a9c4cf" stroke-width="1.2"/><line x1="1023.0" y1="1228.2" x2="1025.8" y2="1229.4" stroke="#a9c4cf" stroke-width="1.2"/><line x1="1005.0" y1="1220.9" x2="1007.9" y2="1221.3" stroke="#a9c4cf" stroke-width="1.2"/><line x1="996.0" y1="1238.1" x2="998.9" y2="1238.8" stroke="#a9c4cf" stroke-width="1.2"/><line x1="976.8" y1="1228.0" x2="978.4" y2="1230.5" stroke="#a9c4cf" stroke-width="1.2"/><line x1="1012.4" y1="1222.9" x2="1015.2" y2="1224.2" stroke="#a9c4cf" stroke-width="1.2"/><line x1="1010.2" y1="1223.5" x2="1007.3" y2="1224.2" stroke="#a9c4cf" stroke-width="1.2"/><line x1="997.2" y1="1218.6" x2="998.7" y2="1221.2" stroke="#a9c4cf" stroke-width="1.2"/><line x1="1009.7" y1="1213.5" x2="1007.0" y2="1214.7" stroke="#a9c4cf" stroke-width="1.2"/><line x1="984.2" y1="1238.8" x2="984.4" y2="1241.8" stroke="#a9c4cf" stroke-width="1.2"/><line x1="1003.5" y1="1234.7" x2="1006.4" y2="1235.4" stroke="#a9c4cf" stroke-width="1.2"/><line x1="1003.0" y1="1238.1" x2="1003.0" y2="1241.1" stroke="#a9c4cf" stroke-width="1.2"/><line x1="996.8" y1="1222.4" x2="997.5" y2="1225.3" stroke="#a9c4cf" stroke-width="1.2"/><line x1="995.6" y1="1226.8" x2="995.9" y2="1229.8" stroke="#a9c4cf" stroke-width="1.2"/><line x1="1001.5" y1="1223.9" x2="1004.0" y2="1225.5" stroke="#a9c4cf" stroke-width="1.2"/><line x1="1014.9" y1="1224.5" x2="1016.1" y2="1227.3" stroke="#a9c4cf" stroke-width="1.2"/><line x1="991.9" y1="1241.0" x2="991.0" y2="1243.9" stroke="#a9c4cf" stroke-width="1.2"/><line x1="1001.1" y1="1233.7" x2="1003.5" y2="1235.5" stroke="#a9c4cf" stroke-width="1.2"/><line x1="1002.2" y1="1228.1" x2="1002.6" y2="1231.1" stroke="#a9c4cf" stroke-width="1.2"/><line x1="1003.5" y1="1238.8" x2="1006.1" y2="1240.3" stroke="#a9c4cf" stroke-width="1.2"/>
<line x1="1189.9" y1="1141.7" x2="1189.9" y2="1157.7" stroke="#e8e8e8" stroke-width="4.4" stroke-linecap="round"/><line x1="1196.8" y1="1145.7" x2="1183.0" y2="1153.7" stroke="#e8e8e8" stroke-width="4.4" stroke-linecap="round"/><line x1="1196.8" y1="1153.7" x2="1183.0" y2="1145.7" stroke="#e8e8e8" stroke-width="4.4" stroke-linecap="round"/>
<line x1="1280.9" y1="1270.7" x2="1280.9" y2="1284.7" stroke="#e8e8e8" stroke-width="3.9" stroke-linecap="round"/><line x1="1287.0" y1="1274.2" x2="1274.8" y2="1281.2" stroke="#e8e8e8" stroke-width="3.9" stroke-linecap="round"/><line x1="1287.0" y1="1281.2" x2="1274.8" y2="1274.2" stroke="#e8e8e8" stroke-width="3.9" stroke-linecap="round"/>
<line x1="1167.1" y1="1307.3" x2="1167.1" y2="1323.3" stroke="#d0d0d0" stroke-width="4.4" stroke-linecap="round"/><line x1="1174.0" y1="1311.3" x2="1160.2" y2="1319.3" stroke="#d0d0d0" stroke-width="4.4" stroke-linecap="round"/><line x1="1174.0" y1="1319.3" x2="1160.2" y2="1311.3" stroke="#d0d0d0" stroke-width="4.4" stroke-linecap="round"/>
</svg>
</body></html>
